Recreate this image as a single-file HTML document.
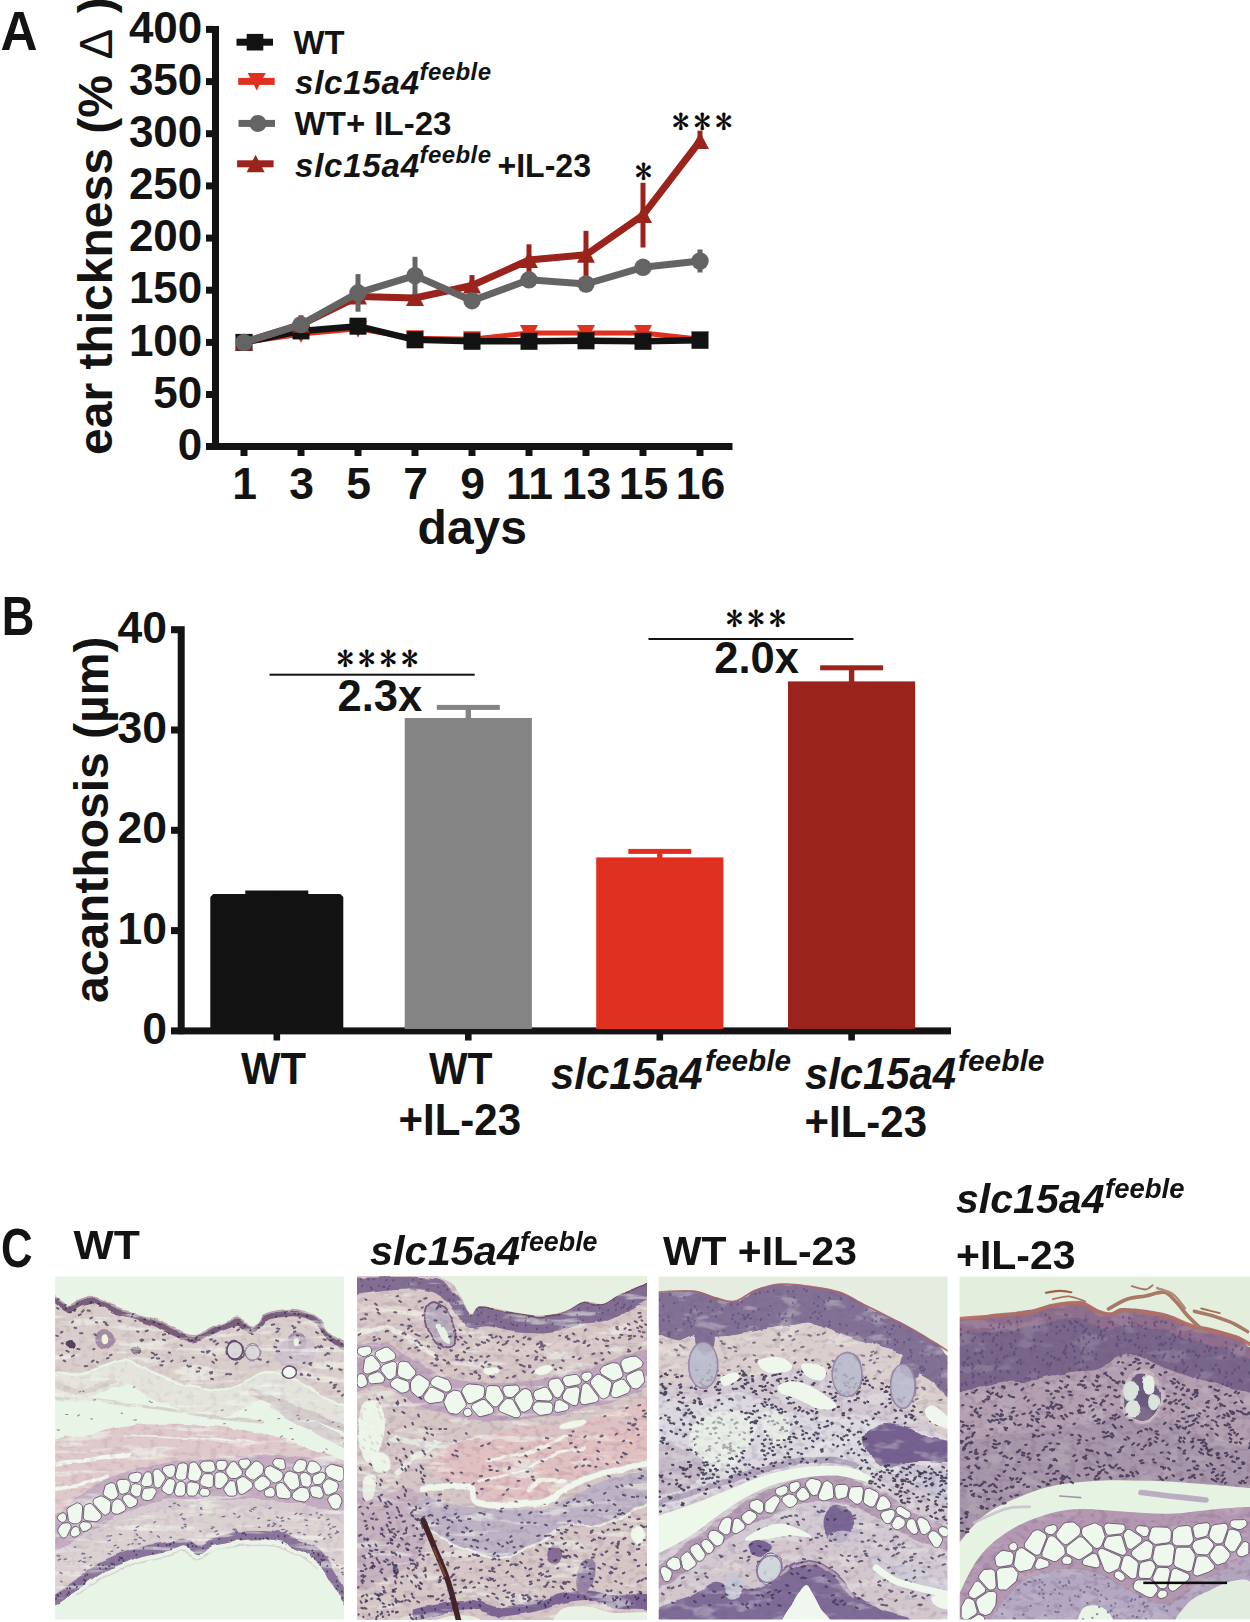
<!DOCTYPE html>
<html lang="en">
<head>
<meta charset="utf-8">
<title>Figure: ear thickness, acanthosis and histology</title>
<style>
html,body{margin:0;padding:0;background:#fff;}
body{width:1250px;height:1622px;overflow:hidden;font-family:"Liberation Sans",sans-serif;}
svg{display:block;}
text{font-family:"Liberation Sans",sans-serif;fill:#121312;}
.b{font-weight:bold;}
.bi{font-weight:bold;font-style:italic;}
.st{font-family:"IPAGothic","Liberation Serif",serif;font-weight:normal;fill:#000;stroke:#000;stroke-width:0.4px;}
</style>
</head>
<body>
<svg width="1250" height="1622" viewBox="0 0 1250 1622">
<rect width="1250" height="1622" fill="#ffffff"/>
<g id="panelC-images">
<defs>
<filter id="soft2" x="-2%" y="-2%" width="104%" height="104%"><feGaussianBlur stdDeviation="1.5"/></filter>
<filter id="desat" x="0" y="0" width="100%" height="100%" color-interpolation-filters="sRGB"><feColorMatrix type="saturate" values="0.82"/></filter>
<filter id="tis1" x="0" y="0" width="100%" height="100%" color-interpolation-filters="sRGB">
<feTurbulence type="fractalNoise" baseFrequency="0.012" numOctaves="2" seed="3" result="w"/>
<feDisplacementMap in="SourceGraphic" in2="w" scale="26" xChannelSelector="R" yChannelSelector="G" result="g"/>
<feTurbulence type="fractalNoise" baseFrequency="0.004 0.03" numOctaves="3" seed="14" result="t"/>
<feColorMatrix in="t" type="matrix" values="0 0 0 0 0.95  0 0 0 0 0.98  0 0 0 0 0.93  7 0 0 0 -3.9" result="s0"/>
<feComponentTransfer in="s0" result="s1"><feFuncA type="linear" slope="0.55"/></feComponentTransfer>
<feComposite in="s1" in2="g" operator="atop" result="g2"/>
<feTurbulence type="fractalNoise" baseFrequency="0.03 0.045" numOctaves="2" seed="26" result="t2"/>
<feColorMatrix in="t2" type="matrix" values="0 0 0 0 0.42  0 0 0 0 0.3  0 0 0 0 0.48  0 6 0 0 -3.1" result="d0"/>
<feComponentTransfer in="d0" result="d1"><feFuncA type="linear" slope="0.1"/></feComponentTransfer>
<feComposite in="d1" in2="g2" operator="atop" result="g3"/>
<feGaussianBlur in="g3" stdDeviation="2.6"/>
</filter>
<filter id="tis2" x="0" y="0" width="100%" height="100%" color-interpolation-filters="sRGB">
<feTurbulence type="fractalNoise" baseFrequency="0.012" numOctaves="2" seed="8" result="w"/>
<feDisplacementMap in="SourceGraphic" in2="w" scale="26" xChannelSelector="R" yChannelSelector="G" result="g"/>
<feTurbulence type="fractalNoise" baseFrequency="0.005 0.028" numOctaves="3" seed="19" result="t"/>
<feColorMatrix in="t" type="matrix" values="0 0 0 0 0.95  0 0 0 0 0.98  0 0 0 0 0.93  7 0 0 0 -3.9" result="s0"/>
<feComponentTransfer in="s0" result="s1"><feFuncA type="linear" slope="0.5"/></feComponentTransfer>
<feComposite in="s1" in2="g" operator="atop" result="g2"/>
<feTurbulence type="fractalNoise" baseFrequency="0.03 0.045" numOctaves="2" seed="31" result="t2"/>
<feColorMatrix in="t2" type="matrix" values="0 0 0 0 0.42  0 0 0 0 0.3  0 0 0 0 0.48  0 6 0 0 -3.1" result="d0"/>
<feComponentTransfer in="d0" result="d1"><feFuncA type="linear" slope="0.14"/></feComponentTransfer>
<feComposite in="d1" in2="g2" operator="atop" result="g3"/>
<feGaussianBlur in="g3" stdDeviation="2.6"/>
</filter>
<filter id="tis3" x="0" y="0" width="100%" height="100%" color-interpolation-filters="sRGB">
<feTurbulence type="fractalNoise" baseFrequency="0.012" numOctaves="2" seed="5" result="w"/>
<feDisplacementMap in="SourceGraphic" in2="w" scale="26" xChannelSelector="R" yChannelSelector="G" result="g"/>
<feTurbulence type="fractalNoise" baseFrequency="0.008 0.02" numOctaves="3" seed="16" result="t"/>
<feColorMatrix in="t" type="matrix" values="0 0 0 0 0.95  0 0 0 0 0.98  0 0 0 0 0.93  7 0 0 0 -3.9" result="s0"/>
<feComponentTransfer in="s0" result="s1"><feFuncA type="linear" slope="0.28"/></feComponentTransfer>
<feComposite in="s1" in2="g" operator="atop" result="g2"/>
<feTurbulence type="fractalNoise" baseFrequency="0.03 0.045" numOctaves="2" seed="28" result="t2"/>
<feColorMatrix in="t2" type="matrix" values="0 0 0 0 0.42  0 0 0 0 0.3  0 0 0 0 0.48  0 6 0 0 -3.1" result="d0"/>
<feComponentTransfer in="d0" result="d1"><feFuncA type="linear" slope="0.16"/></feComponentTransfer>
<feComposite in="d1" in2="g2" operator="atop" result="g3"/>
<feGaussianBlur in="g3" stdDeviation="2.6"/>
</filter>
<filter id="tis4" x="0" y="0" width="100%" height="100%" color-interpolation-filters="sRGB">
<feTurbulence type="fractalNoise" baseFrequency="0.012" numOctaves="2" seed="9" result="w"/>
<feDisplacementMap in="SourceGraphic" in2="w" scale="26" xChannelSelector="R" yChannelSelector="G" result="g"/>
<feTurbulence type="fractalNoise" baseFrequency="0.008 0.016" numOctaves="3" seed="20" result="t"/>
<feColorMatrix in="t" type="matrix" values="0 0 0 0 0.95  0 0 0 0 0.98  0 0 0 0 0.93  7 0 0 0 -3.9" result="s0"/>
<feComponentTransfer in="s0" result="s1"><feFuncA type="linear" slope="0.12"/></feComponentTransfer>
<feComposite in="s1" in2="g" operator="atop" result="g2"/>
<feTurbulence type="fractalNoise" baseFrequency="0.03 0.045" numOctaves="2" seed="32" result="t2"/>
<feColorMatrix in="t2" type="matrix" values="0 0 0 0 0.42  0 0 0 0 0.3  0 0 0 0 0.48  0 6 0 0 -3.1" result="d0"/>
<feComponentTransfer in="d0" result="d1"><feFuncA type="linear" slope="0.2"/></feComponentTransfer>
<feComposite in="d1" in2="g2" operator="atop" result="g3"/>
<feGaussianBlur in="g3" stdDeviation="2.6"/>
</filter>
<clipPath id="clip1"><rect x="55.1" y="1276.6" width="288.8" height="342.8"/></clipPath>
<clipPath id="clip2"><rect x="357.7" y="1276.6" width="288.8" height="342.8"/></clipPath>
<clipPath id="clip3"><rect x="658.7" y="1276.6" width="288.8" height="342.8"/></clipPath>
<clipPath id="clip4"><rect x="959.7" y="1276.6" width="290.3" height="342.8"/></clipPath>
</defs>
<g clip-path="url(#clip1)" filter="url(#desat)"><g transform="translate(55,1276) scale(0.23202)"><rect x="-10" y="-10" width="1280" height="1500" fill="#e6f6e4"/><g filter="url(#tis1)"><path d="M-10 80C2 88 40 125 60 130C80 135 92 114 110 108C128 102 147 90 170 95C193 100 223 124 250 135C277 146 300 151 330 160C360 169 398 178 430 190C462 202 492 223 520 235C548 247 570 263 600 260C630 257 668 228 700 215C732 202 765 183 790 185C815 187 832 228 850 225C868 222 878 182 900 170C922 158 953 153 980 150C1007 147 1035 144 1060 150C1085 156 1110 168 1130 185C1150 202 1158 232 1180 250C1202 268 1247 288 1260 295L1260 560C1247 555 1207 543 1180 530C1153 517 1130 497 1100 480C1070 463 1033 442 1000 430C967 418 933 405 900 410C867 415 833 447 800 460C767 473 733 488 700 490C667 492 633 478 600 470C567 462 533 452 500 440C467 428 433 415 400 400C367 385 333 352 300 350C267 348 233 373 200 385C167 397 135 416 100 420C65 424 8 412 -10 410Z" fill="#dccdca"/><path d="M-10 420C8 422 65 434 100 430C135 426 167 407 200 395C233 383 267 358 300 360C333 362 367 395 400 410C433 425 467 438 500 450C533 462 567 472 600 480C633 488 667 502 700 500C733 498 767 483 800 470C833 457 867 425 900 420C933 415 967 428 1000 440C1033 452 1070 473 1100 490C1130 507 1153 527 1180 540C1207 553 1247 565 1260 570L1260 680C1247 675 1207 663 1180 650C1153 637 1130 617 1100 600C1070 583 1033 562 1000 550C967 538 933 525 900 530C867 535 833 567 800 580C767 593 733 608 700 610C667 612 633 598 600 590C567 582 533 572 500 560C467 548 433 535 400 520C367 505 333 472 300 470C267 468 233 493 200 505C167 517 135 536 100 540C65 544 8 532 -10 530Z" fill="#e3ddd8" fill-opacity="0.75"/><path d="M0 520C33 523 125 532 200 540C275 548 367 558 450 570C533 582 625 600 700 610C775 620 867 627 900 630" fill="none" stroke="#d5c8c4" stroke-width="14" stroke-linecap="round" stroke-opacity="0.8"/><path d="M850 500C875 510 950 540 1000 560C1050 580 1108 603 1150 620C1192 637 1233 653 1250 660" fill="none" stroke="#d2c4c6" stroke-width="34" stroke-linecap="round" stroke-opacity="0.85"/><path d="M0 470C20 475 78 503 120 500C162 497 228 458 250 450" fill="none" stroke="#d8ccc6" stroke-width="24" stroke-linecap="round" stroke-opacity="0.8"/><path d="M950 560C975 573 1050 613 1100 640C1150 667 1225 707 1250 720" fill="none" stroke="#d6cacc" stroke-width="44" stroke-linecap="round" stroke-opacity="0.8"/><path d="M-10 705C17 701 98 690 150 680C202 670 225 652 300 645C375 638 500 634 600 640C700 646 817 662 900 680C983 698 1040 725 1100 745C1160 765 1233 791 1260 800L1260 833C1233 828 1160 811 1100 805C1040 798 967 795 900 795C833 795 758 801 700 805C642 809 600 811 550 818C500 825 450 835 400 848C350 860 300 870 250 893C200 915 143 954 100 983C57 1011 8 1049 -10 1063Z" fill="#e3c8ca"/><path d="M0 808C25 805 97 799 150 793C203 786 292 772 320 768" fill="none" stroke="#eef8ec" stroke-width="18" stroke-linecap="round"/><path d="M0 918C17 915 63 911 100 903C137 894 200 874 220 868" fill="none" stroke="#eef8ec" stroke-width="16" stroke-linecap="round"/><path d="M300 690C350 692 508 696 600 700C692 704 808 712 850 715" fill="none" stroke="#eef6ea" stroke-width="8" stroke-linecap="round" stroke-opacity="0.8"/><path d="M-10 1033C8 1019 57 981 100 953C143 924 200 884 250 863C300 841 350 834 400 823C450 811 500 799 550 793C600 786 642 786 700 783C758 779 833 773 900 773C967 773 1040 776 1100 783C1160 789 1233 808 1260 813L1260 1033C1233 1026 1160 1004 1100 993C1040 981 967 968 900 963C833 958 763 963 700 963C637 963 570 959 520 963C470 966 445 968 400 983C355 998 300 1028 250 1053C200 1078 143 1109 100 1133C57 1156 8 1183 -10 1193Z" fill="#c9acc4"/><path d="M-10 1193C8 1183 57 1156 100 1133C143 1109 200 1078 250 1053C300 1028 355 998 400 983C445 968 470 966 520 963C570 959 637 963 700 963C763 963 833 958 900 963C967 968 1040 981 1100 993C1160 1004 1233 1026 1260 1033L1260 1453C1250 1433 1222 1369 1200 1333C1178 1296 1155 1258 1130 1233C1105 1208 1080 1198 1050 1183C1020 1168 992 1149 950 1143C908 1136 845 1139 800 1143C755 1146 710 1156 680 1165C650 1173 640 1195 620 1195C600 1195 580 1167 560 1165C540 1163 535 1174 500 1183C465 1191 400 1198 350 1215C300 1232 242 1261 200 1285C158 1308 135 1331 100 1355C65 1379 8 1416 -10 1428Z" fill="#d9cad0"/><path d="M-10 1233C8 1223 57 1196 100 1173C143 1149 200 1118 250 1093C300 1068 355 1038 400 1023C445 1008 470 1006 520 1003C570 999 637 1003 700 1003C763 1003 833 998 900 1003C967 1008 1040 1021 1100 1033C1160 1044 1233 1066 1260 1073L1260 1367C1253 1353 1238 1317 1220 1287C1202 1257 1178 1213 1150 1187C1122 1160 1083 1142 1050 1127C1017 1112 992 1102 950 1097C908 1092 845 1092 800 1097C755 1102 710 1118 680 1127C650 1136 640 1152 620 1152C600 1152 580 1129 560 1127C540 1124 535 1130 500 1137C465 1143 400 1152 350 1167C300 1182 242 1205 200 1227C158 1248 135 1273 100 1297C65 1320 8 1355 -10 1367Z" fill="#ddd1d1"/><path d="M-10 1373C8 1361 65 1326 100 1303C135 1279 158 1254 200 1233C242 1211 300 1188 350 1173C400 1158 465 1149 500 1143C535 1136 540 1130 560 1133C580 1135 600 1158 620 1158C640 1158 650 1142 680 1133C710 1124 755 1108 800 1103C845 1098 908 1098 950 1103C992 1108 1017 1118 1050 1133C1083 1148 1122 1166 1150 1193C1178 1219 1202 1263 1220 1293C1238 1323 1253 1359 1260 1373L1260 1453C1250 1433 1222 1369 1200 1333C1178 1296 1155 1258 1130 1233C1105 1208 1080 1198 1050 1183C1020 1168 992 1149 950 1143C908 1136 845 1139 800 1143C755 1146 710 1156 680 1165C650 1173 640 1195 620 1195C600 1195 580 1167 560 1165C540 1163 535 1174 500 1183C465 1191 400 1198 350 1215C300 1232 242 1261 200 1285C158 1308 135 1331 100 1355C65 1379 8 1416 -10 1428Z" fill="#8d72a0"/><path d="M100 1377C117 1365 158 1330 200 1307C242 1283 300 1254 350 1237C400 1220 465 1213 500 1205C535 1196 540 1185 560 1187C580 1189 600 1217 620 1217C640 1217 650 1195 680 1187C710 1178 755 1168 800 1165C845 1161 908 1158 950 1165C992 1171 1020 1190 1050 1205C1080 1220 1117 1246 1130 1255" fill="none" stroke="#d8ccd0" stroke-width="7" stroke-linecap="round" stroke-opacity="0.8"/><path d="M-10 94C2 102 40 139 60 144C80 149 92 128 110 122C128 116 147 104 170 109C193 114 223 138 250 149C277 160 300 165 330 174C360 183 398 192 430 204C462 216 492 237 520 249C548 261 570 277 600 274C630 271 668 242 700 229C732 216 765 197 790 199C815 201 832 242 850 239C868 236 878 196 900 184C922 172 953 167 980 164C1007 161 1035 158 1060 164C1085 170 1110 182 1130 199C1150 216 1158 246 1180 264C1202 282 1247 302 1260 309" fill="none" stroke="#7c5c80" stroke-width="24" stroke-linecap="round"/><path d="M-10 78C2 86 40 123 60 128C80 133 92 112 110 106C128 100 147 88 170 93C193 98 223 122 250 133C277 144 300 149 330 158C360 167 398 176 430 188C462 200 492 221 520 233C548 245 570 261 600 258C630 255 668 226 700 213C732 200 765 181 790 183C815 185 832 226 850 223C868 220 878 180 900 168C922 156 953 151 980 148C1007 145 1035 142 1060 148C1085 154 1110 166 1130 183C1150 200 1158 230 1180 248C1202 266 1247 286 1260 293" fill="none" stroke="#b79aa8" stroke-width="8" stroke-linecap="round" stroke-opacity="0.9"/><ellipse cx="215" cy="275" rx="42" ry="42" fill="#a98aa8"/><ellipse cx="215" cy="275" rx="14" ry="20" fill="#e8f6d8"/><ellipse cx="1040" cy="285" rx="40" ry="44" fill="#a98aa8"/><ellipse cx="1040" cy="285" rx="12" ry="18" fill="#e8f6d8"/><ellipse cx="1040" cy="330" rx="85" ry="70" fill="#cdbfd0" fill-opacity="0.8"/><ellipse cx="775" cy="320" rx="38" ry="42" fill="#d8d4d8" stroke="#6a4a70" stroke-width="7"/><ellipse cx="852" cy="330" rx="36" ry="36" fill="#dcd8dc" stroke="#9a80a0" stroke-width="5"/><ellipse cx="65" cy="298" rx="24" ry="18" fill="#5a3e5e"/><ellipse cx="350" cy="322" rx="22" ry="16" fill="#5a3e5e"/><ellipse cx="1010" cy="415" rx="32" ry="28" fill="#eef8ec" stroke="#6a4a70" stroke-width="5"/></g><g filter="url(#soft2)"><path d="M205 1025L211 1030L219 1031L233 1023L237 1015L241 978L238 971L233 966L206 950L196 948L171 958L165 966L164 975L168 984ZM67 1101L66 1109L68 1117L74 1123L81 1125L89 1124L101 1118L107 1112L109 1105L103 1087L98 1082L90 1079L77 1084ZM908 867L899 862L889 863L859 887L857 895L859 909L875 925L883 927L891 926L920 908L926 903L929 893L927 885ZM990 800L987 792L980 788L954 786L943 793L939 802L939 809L946 820L971 834L980 835L989 831L994 823ZM831 788L801 790L795 795L792 801L792 809L805 829L811 832L820 832L827 828L839 814L842 807L842 800L838 793ZM1048 911L1054 904L1055 896L1049 864L1046 856L1041 851L1014 841L1005 842L996 847L991 854L984 874L984 881L988 889L1012 918L1018 922L1031 922ZM216 905L207 937L211 946L241 965L254 963L267 954L272 946L272 938L260 900L256 894L248 891L240 891L220 900ZM375 902L385 908L404 907L412 905L418 899L420 890L417 857L413 849L408 845L395 844L385 852L371 887L371 895ZM90 979L56 999L51 1008L58 1054L63 1061L77 1068L98 1068L112 1057L115 1050L119 999L118 991L112 984L97 977ZM784 931L776 889L770 883L757 882L749 886L730 911L727 918L729 926L745 947L753 949L769 949L776 947L782 941ZM1085 828L1085 837L1089 844L1100 852L1108 854L1139 843L1145 836L1147 828L1142 817L1125 801L1108 797L1100 798L1094 804ZM709 795L701 797L695 805L694 813L697 828L700 833L706 838L724 839L732 834L742 818L742 805L738 798L732 795ZM1162 934L1168 942L1178 945L1211 931L1217 923L1222 905L1218 892L1213 887L1185 875L1177 874L1169 878L1155 895L1152 903L1153 910ZM613 810L607 804L597 801L586 805L579 812L572 866L575 874L582 881L607 885L615 883L622 877L631 857L633 849L632 843ZM823 839L819 850L823 861L843 877L855 880L862 876L893 853L897 846L900 825L896 816L879 800L866 797L857 802ZM663 913L674 911L682 903L683 863L679 856L671 852L645 852L635 861L625 883L625 894L634 905ZM302 944L292 952L291 964L313 995L320 999L328 999L350 988L356 974L355 965L350 960L321 941L313 940ZM515 928L517 941L526 949L548 949L557 945L561 938L563 932L562 901L559 892L552 887L546 885L536 886L529 890L524 896ZM1067 911L1055 912L1029 931L1023 939L1022 950L1026 959L1039 968L1074 974L1082 971L1095 958L1098 946L1093 925L1090 919L1083 914ZM629 918L622 932L624 940L628 945L635 949L657 949L664 944L668 936L666 924L655 916L636 914ZM477 818L469 822L464 828L463 837L466 844L485 866L498 869L508 866L515 857L520 834L518 821L511 815L505 813ZM454 838L446 832L434 833L426 837L422 846L427 902L433 910L440 914L448 913L455 909L476 874L474 862ZM937 888L944 892L951 892L973 882L978 875L983 863L983 853L976 843L934 820L927 818L916 821L906 830L902 845L903 852L907 859ZM1137 899L1149 895L1166 871L1167 862L1165 855L1160 849L1154 846L1144 846L1118 857L1110 867L1110 884L1114 893L1122 899ZM106 1080L114 1097L121 1101L134 1100L154 1087L157 1079L155 1070L150 1064L144 1061L125 1059L117 1060L110 1066L106 1073ZM414 965L422 959L435 936L437 928L435 922L429 915L421 912L387 915L382 919L378 926L373 947L374 957L379 963L386 966L402 968ZM17 1028L10 1040L11 1046L15 1053L29 1062L38 1061L46 1056L50 1044L49 1032L44 1025L37 1021L30 1021ZM171 1059L181 1058L197 1045L200 1038L199 1028L160 983L150 980L134 985L128 990L125 998L122 1037L123 1045L133 1054ZM789 927L792 935L799 940L807 941L815 938L850 913L853 904L849 890L816 865L806 865L790 874L784 880L782 887ZM35 1066L25 1072L14 1089L12 1098L14 1104L25 1123L32 1128L38 1129L46 1127L52 1121L68 1088L70 1080L67 1071L59 1065L51 1063ZM331 850L323 854L318 863L317 871L322 880L328 887L336 890L355 890L364 886L374 864L373 856L369 850L357 845ZM987 896L980 891L972 890L961 894L954 900L951 909L955 946L960 953L966 957L1004 961L1012 957L1016 952L1017 934ZM1069 843L1079 833L1085 813L1084 803L1080 797L1073 793L1054 791L1047 793L1040 798L1027 821L1025 829L1027 835L1033 843L1047 848ZM760 873L780 873L800 862L806 856L808 847L806 839L781 806L775 801L768 800L760 802L755 807L737 835L736 843L739 852L754 870ZM1170 825L1165 832L1164 842L1173 861L1178 866L1222 885L1232 885L1242 877L1245 869L1244 835L1242 829L1237 823L1192 811L1184 814ZM708 844L696 847L689 856L688 902L691 910L696 914L711 917L723 911L744 885L747 875L744 866L729 849L722 846ZM519 859L521 871L530 879L551 880L562 876L567 867L572 824L571 815L567 810L555 805L539 807L532 812L528 820ZM345 895L336 898L330 903L324 929L331 941L346 951L356 952L364 948L368 943L375 912L371 905L364 898ZM1185 948L1177 956L1175 966L1191 997L1198 1003L1209 1006L1221 1003L1227 997L1237 971L1234 957L1224 943L1215 939L1206 939ZM280 877L270 882L265 892L276 932L282 938L290 941L310 935L315 931L319 924L325 900L323 890L314 880L308 876ZM264 1027L274 1026L298 1014L303 1009L306 1002L303 991L286 967L275 961L266 961L253 969L246 981L243 1008L244 1015L251 1023ZM1098 923L1106 948L1112 952L1141 959L1153 954L1158 942L1149 915L1145 909L1136 905L1116 904L1106 906L1099 915ZM484 941L492 943L499 942L504 939L509 932L519 891L516 882L509 876L494 873L484 876L461 911L460 919L463 927ZM1099 905L1105 894L1104 868L1101 860L1081 847L1074 846L1063 851L1057 856L1055 865L1062 899L1069 906L1085 910L1094 909ZM910 920L904 926L902 934L903 942L908 948L916 952L932 953L940 951L945 947L949 938L948 926L941 914L934 911L927 911ZM640 798L629 804L624 814L626 822L637 842L648 846L674 846L686 841L691 834L691 827L687 809L683 801L672 797ZM587 887L576 889L569 898L568 935L572 943L579 948L599 949L607 945L611 941L623 914L624 905L621 898L614 892Z" fill="#eef9ea" stroke="#5e4468" stroke-width="3.5" stroke-linejoin="round"/></g><g filter="url(#soft2)"><path d="M26 244l6 -4M957 226l10 2M1175 332l6 3M655 326l6 3M695 295l8 -5M501 368l5 -4M73 200l5 -4M141 149l9 1M84 223l7 1M667 416l10 -2M934 211l11 -3M103 169l8 -4M73 347l9 -5M462 369l7 -2M823 338l7 3M237 342l7 -3M128 389l10 -1M116 155l8 -7M1146 301l6 5M682 337l7 6M656 331l5 -4M632 326l9 2M955 324l11 -0M159 369l8 -5M224 355l7 -2M673 443l8 2M354 239l6 1M570 386l6 5M954 242l8 -4M877 358l10 3M1071 375l5 -1M914 372l5 -3M692 359l5 4M439 356l10 0M778 379l8 -6M165 316l5 -2M737 424l6 -2M417 330l9 5M1030 242l6 -3M275 193l7 2M786 235l7 -5M1121 308l5 -0M1059 426l7 -0M417 354l7 -2M1060 421l4 3M49 322l10 5M1202 472l10 -4M735 286l7 -1M421 274l7 2M848 308l9 4M369 277l5 4M490 330l6 1M96 314l10 2M1091 424l9 6M1023 215l4 3M671 421l6 -3M579 390l7 -1M541 298l6 2M684 283l8 -4M1096 378l7 6M176 199l6 1M1237 516l7 -5M1051 289l5 -2M1030 225l6 -3M1189 311l10 2M1134 303l8 5M1158 273l8 3M953 277l9 4M1053 287l5 0M593 351l6 1M372 274l8 2M465 253l10 -2M1125 242l9 5M1133 443l4 3M152 183l8 -4M1219 498l8 -2M5 257l7 2M1164 341l9 -6M211 198l10 5M37 364l7 4M171 251l5 4M1225 402l10 3M181 370l4 3M1188 401l6 -4M29 290l5 1M659 324l8 -1M1048 199l7 1M1042 256l6 1M23 343l8 -2M750 423l9 0M1100 375l6 0M431 341l8 -3M1186 460l5 -2M620 395l7 3M454 385l9 -0M611 413l10 -2M1200 483l8 -4M678 369l7 6M108 247l10 -0M466 274l8 3M219 208l8 4M669 274l7 -0M1089 428l10 -0M769 339l5 -4M555 367l9 -3M1174 386l8 4M9 138l6 3M945 305l9 2M1013 349l6 4M391 238l9 -3" stroke="#4a3560" stroke-opacity="0.75" stroke-width="8.5" stroke-linecap="round" fill="none"/><path d="M874 1045l7 -1M775 1090l7 6M14 1224l10 -4M1235 1261l8 -3M350 1083l10 -4M555 1051l7 -5M126 1234l7 -1M789 1041l8 -6M625 1031l8 -4M627 1003l6 2M1208 1110l9 -5M496 1126l6 1M547 1044l7 3M343 1136l8 -0M769 1023l8 3M846 1005l10 1M21 1277l9 5M721 1037l10 -1M943 1075l8 -6M1215 1247l5 1M331 1155l5 -2M1010 1111l9 -1M1178 1116l8 -4M1047 1106l10 -0M1172 1050l9 -2M1235 1278l7 0M839 1011l8 4M1137 1118l8 -5M1157 1135l8 -5M1098 1028l8 1M923 1003l8 -5M673 1088l6 1M1082 1074l5 2M256 1162l8 -2M701 1114l5 -3M857 999l9 -2M1197 1221l6 4M9 1205l10 2M1172 1210l5 2M102 1231l9 -5M40 1222l10 -3M224 1121l6 -1M546 1085l6 1M969 1079l6 -3M124 1216l8 -1M627 999l5 1M918 1054l9 -1M351 1113l5 4M767 1091l6 4M540 1031l8 -6M492 993l8 2M278 1113l9 1M1134 1043l7 -1M877 1082l6 1M624 1099l5 2M993 1101l8 -3M288 1182l5 2M917 1075l8 -5M118 1231l9 1M342 1097l8 -2M1072 1113l6 2M1126 1022l5 -2M511 981l8 -2M1198 1082l11 -2M1055 1027l10 -3M380 1139l8 3M242 1187l6 -1M974 1045l8 -5M689 1102l10 -4M557 1070l8 2M1120 1143l10 4M229 1142l10 -4M955 1038l8 4M411 1102l6 3M234 1121l10 -2M1034 1027l9 -5M115 1197l6 0M977 1093l11 -1M83 1168l6 0M1185 1125l5 3M1214 1099l8 6M528 985l9 5M1004 1045l7 3M152 1249l6 -3M940 1065l7 1M1249 1277l6 1M442 1120l8 6M698 1115l4 -2M25 1315l5 3M359 1155l8 -1M119 1195l9 2M935 1079l5 -0M1077 1051l10 2M1239 1286l11 2M229 1196l10 3M363 1127l10 3M1145 1029l6 2M988 1106l9 1M150 1212l7 -0M777 1102l10 2M677 1081l8 2M1177 1074l8 -6M315 1159l6 -3M126 1267l6 -0M269 1172l6 -3M557 1079l8 2M976 1056l10 -1M1185 1091l5 -3M917 1078l7 -1M427 1063l6 -4" stroke="#5a4a80" stroke-opacity="0.7" stroke-width="6" stroke-linecap="round" fill="none"/><path d="M125 1309l1 2M243 1239l1 2M1144 1234l-1 2M913 1128l1 2M341 1185l-0 2M809 1109l-1 2M350 1201l1 2M1248 1365l-1 2M1236 1359l1 2M1119 1216l1 2M11 1374l-1 2M219 1259l1 2M130 1313l1 2M1155 1206l0 2M494 1158l-1 2M897 1131l1 1M1239 1387l-0 2M1174 1249l-1 2M127 1326l-1 2M1134 1197l-0 1M445 1160l-1 1M1152 1224l1 3M53 1346l-1 1M14 1379l-0 2M86 1330l-0 3M1219 1335l1 2M919 1134l0 1M511 1147l1 3M296 1224l-1 3M962 1120l1 2M801 1133l1 3M61 1367l-1 2M1214 1315l-0 2M980 1149l1 2M1212 1347l-0 3M81 1326l1 3M501 1176l-1 2M1080 1155l-1 2M193 1259l1 2M1137 1202l-1 3M638 1171l0 3M207 1247l-0 1M1174 1273l-0 2M991 1120l-1 2M280 1212l-1 2M1109 1182l0 2M189 1245l1 1M1115 1192l-1 2M95 1339l-1 3M234 1250l-1 2M707 1133l-0 2M139 1286l1 2M59 1362l-0 3M382 1173l-1 2M422 1195l-1 2M498 1155l-1 2M573 1158l-1 2M1103 1202l-1 2M481 1159l1 2M1136 1233l1 3M760 1140l0 1M256 1243l-0 1M865 1129l0 2M675 1152l-1 2M883 1132l-0 1M5 1389l-1 3M1107 1210l0 1M289 1214l1 3M249 1240l-1 2M1148 1221l0 2M285 1217l0 2M24 1367l-0 2M594 1163l0 2M609 1165l-0 2M131 1291l-1 2M815 1107l-1 2M822 1114l-0 2M1144 1243l-1 2M1161 1222l-1 2M574 1166l-0 2M66 1347l-0 1M63 1344l1 3M589 1151l1 2M275 1223l1 3M52 1373l0 2" stroke="#3e2a5e" stroke-opacity="0.8" stroke-width="7" stroke-linecap="round" fill="none"/><path d="M952 176l2 -2M345 193l2 -0M1048 166l3 -3M1084 173l5 1M1187 278l3 -1M385 187l4 1M788 205l4 2M849 251l4 -0M841 235l3 -2M451 209l2 1M815 215l5 -1M12 100l5 -1M65 157l3 -0M85 146l4 -2M424 201l3 -3M1053 179l4 1M449 208l3 -1M187 120l3 -1M151 117l2 -1M1182 260l4 0M878 223l3 -0M1220 277l4 2M193 129l3 -1M995 176l3 -1M95 121l2 -1M334 165l4 -2M81 149l5 2M46 142l4 -3M769 221l4 -2M605 269l4 1M678 244l3 -1M991 159l2 0M610 262l2 -0M43 125l4 -1M706 223l3 2M1031 161l4 2M62 135l3 1M490 248l2 1M1150 240l3 -1M531 263l3 -2M605 271l5 -2M154 114l4 -3M1234 294l3 -1M573 273l4 1M1186 264l4 -1M590 277l2 -1M586 278l4 -1M331 175l2 -1M1192 277l2 -2" stroke="#3e2a4e" stroke-opacity="0.8" stroke-width="7" stroke-linecap="round" fill="none"/><path d="M46 597l10 0M414 545l6 -1M879 622l7 -1M338 481l6 -4M155 616l6 -0M1168 745l5 3M1194 632l7 -3M819 578l6 -0M1219 649l5 -0M119 496l6 1M1243 723l6 -2M964 532l4 2M9 663l10 1M1013 658l9 -1M341 621l10 -1M1154 760l8 -2M1049 617l6 -2M717 580l8 -3M97 603l9 -5M1085 624l8 -3M406 539l5 4M168 535l6 -2M285 591l6 1M972 694l8 -5M961 615l8 -1M1236 699l6 0M1043 601l6 -1M104 500l7 -2M1021 704l7 -1M727 637l7 -1" stroke="#5a4a70" stroke-opacity="0.6" stroke-width="5" stroke-linecap="round" fill="none"/></g><g filter="url(#soft2)"><ellipse cx="1010" cy="415" rx="30" ry="26" fill="#eef8ec" stroke="#6a4a70" stroke-width="5"/><ellipse cx="775" cy="320" rx="34" ry="38" fill="#dcd8dc" stroke="#6a4a70" stroke-width="6" fill-opacity="0.9"/><ellipse cx="852" cy="330" rx="32" ry="32" fill="#dcd8dc" stroke="#9a80a0" stroke-width="4" fill-opacity="0.9"/><ellipse cx="215" cy="275" rx="13" ry="19" fill="#e8f6d8"/><ellipse cx="1040" cy="285" rx="11" ry="17" fill="#e8f6d8"/></g></g></g>
<g clip-path="url(#clip2)" filter="url(#desat)"><g transform="translate(357,1276) scale(0.23202)"><g filter="url(#tis2)"><rect x="-10" y="-10" width="1280" height="1500" fill="#d9c5c5"/><path d="M-10 8C25 7 142 4 200 4C258 4 307 2 340 10C373 18 382 33 400 50C418 67 435 90 450 110C465 130 478 168 490 172C502 176 502 140 520 135C538 130 570 140 600 145C630 150 667 160 700 165C733 170 767 177 800 175C833 173 870 165 900 155C930 145 953 120 980 115C1007 110 1035 130 1060 125C1085 120 1107 97 1130 85C1153 73 1178 65 1200 55C1222 45 1250 30 1260 25L1260 100C1250 105 1222 120 1200 132C1178 144 1155 160 1130 172C1105 184 1080 195 1050 202C1020 209 983 205 950 212C917 219 883 236 850 242C817 248 783 248 750 247C717 246 682 242 650 237C618 232 588 220 560 217C532 214 502 230 480 222C458 214 447 192 430 172C413 152 402 120 380 102C358 84 338 69 300 62C262 55 202 59 150 62C98 65 17 79 -10 82Z" fill="#856c9a"/><path d="M490 172C495 166 502 140 520 135C538 130 570 140 600 145C630 150 667 160 700 165C733 170 767 177 800 175C833 173 870 165 900 155C930 145 953 120 980 115C1007 110 1035 130 1060 125C1085 120 1107 97 1130 85C1153 73 1178 65 1200 55C1222 45 1250 30 1260 25" fill="none" stroke="#6a3a4a" stroke-width="7" stroke-linecap="round" stroke-opacity="0.8"/><path d="M0 150C25 148 103 137 150 140C197 143 258 165 280 170" fill="none" stroke="#e6d6d0" stroke-width="26" stroke-linecap="round" stroke-opacity="0.8"/><path d="M0 250C20 246 82 222 120 225C158 228 195 251 230 270C265 289 313 328 330 340" fill="none" stroke="#ecece2" stroke-width="22" stroke-linecap="round" stroke-opacity="0.9"/><path d="M520 300C550 303 637 320 700 320C763 320 833 312 900 300C967 288 1042 267 1100 250C1158 233 1225 208 1250 200" fill="none" stroke="#e2cfcc" stroke-width="40" stroke-linecap="round" stroke-opacity="0.7"/><ellipse cx="360" cy="212" rx="55" ry="105" fill="#b9acc0" stroke="#7a5a80" stroke-width="8" transform="rotate(-22 360 212)"/><ellipse cx="372" cy="250" rx="16" ry="50" fill="#e6f2e0" transform="rotate(-30 372 250)"/><path d="M-10 300C5 298 53 288 80 288C107 288 122 286 150 300C178 314 217 350 250 370C283 390 317 407 350 420C383 433 408 443 450 450C492 457 550 462 600 462C650 462 700 459 750 452C800 445 858 429 900 420C942 411 967 410 1000 400C1033 390 1067 374 1100 362C1133 350 1173 337 1200 330C1227 323 1250 320 1260 318L1260 470C1250 475 1227 490 1200 502C1173 514 1133 532 1100 542C1067 552 1033 554 1000 562C967 570 942 583 900 592C858 601 800 612 750 617C700 622 650 625 600 624C550 623 500 621 450 612C400 603 342 587 300 572C258 557 233 539 200 522C167 505 135 475 100 472C65 469 8 500 -10 505Z" fill="#c3a5bf"/><ellipse cx="580" cy="408" rx="36" ry="16" fill="#eef8e8"/><ellipse cx="805" cy="405" rx="40" ry="18" fill="#eef8e8" transform="rotate(-15 805 405)"/><ellipse cx="930" cy="640" rx="60" ry="16" fill="#eef8e8" transform="rotate(-12 930 640)"/><path d="M20 560C33 533 73 527 90 540C107 553 120 603 120 640C120 677 103 733 90 760C77 787 53 810 40 800C27 790 13 740 10 700C7 660 7 587 20 560Z" fill="#ecf4e6" fill-opacity="0.9"/><path d="M60 763C68 751 117 761 130 773C143 784 148 821 140 833C132 844 93 854 80 843C67 831 52 774 60 763Z" fill="#ecf4e6" fill-opacity="0.9"/><path d="M30 873C38 856 73 849 80 863C87 876 78 936 70 953C62 969 37 976 30 963C23 949 22 889 30 873Z" fill="#ecf4e6" fill-opacity="0.9"/><path d="M150 700C168 703 215 714 260 720C305 726 377 738 420 735C463 732 503 706 520 700" fill="none" stroke="#e6efe4" stroke-width="30" stroke-linecap="round" stroke-opacity="0.8"/><path d="M170 853C185 839 232 794 260 773C288 751 327 731 340 723" fill="none" stroke="#e8f2e4" stroke-width="24" stroke-linecap="round" stroke-opacity="0.85"/><path d="M-10 933C12 863 75 913 120 913C165 913 230 908 260 933C290 958 300 1016 300 1063C300 1109 285 1174 260 1213C235 1251 195 1273 150 1293C105 1313 17 1393 -10 1333C-37 1273 -32 1003 -10 933Z" fill="#c7afc0" fill-opacity="0.9"/><path d="M500 700C562 680 633 665 700 655C767 645 833 651 900 640C967 629 1040 607 1100 590C1160 573 1233 505 1260 540C1287 575 1297 754 1260 803C1223 851 1100 816 1040 833C980 849 935 884 900 903C865 922 893 936 830 948C767 960 580 981 520 975C460 969 503 935 470 913C437 891 343 866 320 843C297 819 300 796 330 773C360 749 438 720 500 700Z" fill="#e6bebe"/><path d="M560 793C593 786 703 769 760 753C817 736 877 703 900 693" fill="none" stroke="#eef6e8" stroke-width="14" stroke-linecap="round" stroke-opacity="0.9"/><path d="M520 883C550 876 643 863 700 843C757 823 813 779 860 763C907 746 960 746 980 743" fill="none" stroke="#f0f6ea" stroke-width="12" stroke-linecap="round" stroke-opacity="0.9"/><path d="M740 923C750 916 773 889 800 883C827 876 883 883 900 883" fill="none" stroke="#f0f6ea" stroke-width="16" stroke-linecap="round" stroke-opacity="0.9"/><path d="M760 690C800 685 918 673 1000 660C1082 647 1208 618 1250 610" fill="none" stroke="#d9c3c8" stroke-width="22" stroke-linecap="round" stroke-opacity="0.7"/><path d="M280 918C313 916 438 894 480 905C522 916 477 971 530 983C583 994 738 986 800 975C862 963 858 935 900 915C942 895 990 873 1050 855C1110 836 1225 813 1260 805" fill="none" stroke="#eef8ea" stroke-width="26" stroke-linecap="round"/><path d="M270 938C308 948 412 987 500 998C588 1009 725 1015 800 1005C875 994 900 956 950 935C1000 913 1048 891 1100 875C1152 858 1233 841 1260 835L1260 983C1225 998 1110 1059 1050 1075C990 1090 942 1065 900 1075C858 1085 842 1111 800 1135C758 1158 692 1203 650 1215C608 1226 592 1213 550 1203C508 1192 447 1176 400 1153C353 1129 292 1078 270 1063Z" fill="#bfb2c8"/><path d="M270 1063C292 1078 353 1129 400 1153C447 1176 508 1192 550 1203C592 1213 608 1226 650 1215C692 1203 758 1158 800 1135C842 1111 858 1085 900 1075C942 1065 990 1090 1050 1075C1110 1059 1225 998 1260 983" fill="none" stroke="#ecf2e6" stroke-width="10" stroke-linecap="round" stroke-opacity="0.9"/><path d="M240 1438C267 1432 357 1412 400 1405C443 1398 467 1391 500 1395C533 1398 567 1421 600 1425C633 1428 667 1420 700 1415C733 1410 767 1403 800 1395C833 1386 867 1371 900 1365C933 1358 967 1353 1000 1355C1033 1356 1057 1371 1100 1375C1143 1378 1233 1375 1260 1375L1260 1438C1233 1436 1143 1434 1100 1428C1057 1421 1033 1401 1000 1398C967 1394 933 1401 900 1408C867 1414 833 1429 800 1438C767 1446 733 1453 700 1458C667 1463 633 1471 600 1468C567 1464 533 1441 500 1438C467 1434 443 1439 400 1448C357 1457 267 1485 240 1493Z" fill="#80649c"/><ellipse cx="850" cy="1203" rx="34" ry="40" fill="#8a6a98"/><ellipse cx="985" cy="1293" rx="40" ry="80" fill="#9a82ac" transform="rotate(15 985 1293)"/><ellipse cx="1210" cy="1113" rx="30" ry="34" fill="#eef8ea"/></g><g filter="url(#soft2)"><path d="M395 -30C253 -18 410 18 420 40C430 62 443 79 455 100C467 121 480 160 492 165C504 170 507 134 525 130C543 126 571 135 600 140C629 145 667 155 700 160C733 165 767 172 800 170C833 168 870 160 900 150C930 140 953 115 980 110C1007 105 1035 125 1060 120C1085 115 1107 92 1130 80C1153 68 1177 61 1200 50C1223 39 1258 28 1270 15C1282 2 1416 -22 1270 -30C1124 -38 537 -42 395 -30Z" fill="#e4f2de"/><path d="M880 1438C900 1421 963 1423 1000 1425C1037 1427 1055 1446 1100 1451C1145 1456 1242 1443 1270 1455C1298 1467 1335 1511 1270 1523C1205 1534 945 1537 880 1523C815 1509 860 1454 880 1438Z" fill="#e8f4e2"/><path d="M300 1498C320 1488 383 1467 420 1463C457 1459 497 1465 520 1475C543 1485 597 1515 560 1523C523 1531 343 1527 300 1523C257 1519 280 1508 300 1498Z" fill="#e8f4e2" fill-opacity="0.9"/><path d="M285 1053C293 1073 317 1128 335 1173C353 1218 378 1269 395 1323C412 1376 432 1464 440 1493" fill="none" stroke="#4a2420" stroke-width="24" stroke-linecap="round"/><path d="M330 1173C338 1193 372 1273 380 1293" fill="none" stroke="#8a4030" stroke-width="9" stroke-linecap="round"/><path d="M1113 456L1104 465L1094 505L1095 515L1101 521L1112 525L1120 524L1166 506L1175 496L1178 488L1177 480L1153 447L1140 444ZM724 485L712 490L682 519L679 529L680 537L704 579L709 584L718 587L726 585L747 573L761 540L750 499L737 488ZM1209 350L1201 346L1179 347L1153 355L1145 360L1138 370L1137 380L1147 409L1152 415L1160 419L1169 418L1222 394L1229 389L1233 379L1231 369ZM150 451L143 462L147 476L187 503L197 505L214 500L224 492L226 484L225 465L223 459L217 453L174 438L165 441ZM0 464L4 475L14 481L24 480L41 471L44 465L45 456L37 433L33 427L24 422L18 421L11 422L4 427L1 436ZM886 514L885 526L891 535L930 558L943 559L950 554L953 547L961 496L960 488L955 481L946 477L907 483L898 490ZM88 322L79 330L78 343L100 369L106 374L116 374L155 362L162 358L166 352L167 344L163 332L134 307L122 307ZM49 454L55 462L63 465L106 461L117 454L119 441L117 435L103 418L96 414L89 413L57 424L50 429L46 439ZM390 582L400 591L425 596L431 596L438 592L469 563L471 557L470 548L447 502L440 495L416 492L393 506L388 511L375 540L374 546ZM898 431L889 437L885 448L895 469L902 475L911 477L954 469L961 465L965 460L967 454L965 446L953 429L947 425L937 424ZM235 450L230 461L232 491L234 498L261 522L270 523L278 520L311 473L312 459L309 451L275 428L265 425L254 429ZM854 542L849 576L854 583L859 587L867 588L904 580L911 573L914 564L912 557L907 551L880 535L872 533L860 537ZM472 541L480 549L491 550L541 526L547 516L551 492L548 479L541 474L527 469L483 465L472 469L455 485L451 496L453 503ZM770 493L763 499L760 511L765 528L773 536L827 539L837 536L842 529L844 523L842 515L824 486L818 480L806 479ZM15 307L3 314L1 327L6 337L24 347L37 347L56 337L62 330L63 317L59 309L53 303L45 302ZM1010 447L1005 456L1007 466L1050 525L1057 529L1065 530L1081 522L1086 515L1098 469L1097 461L1094 455L1049 426L1041 423L1030 426ZM1052 397L1047 408L1051 421L1099 451L1111 451L1137 440L1142 436L1146 429L1146 420L1133 385L1123 376L1101 373L1063 388ZM377 523L378 512L372 502L330 481L322 479L314 481L309 486L289 515L287 523L290 533L302 545L314 550L364 543L370 537ZM196 367L185 370L178 379L174 419L176 427L185 436L217 448L229 447L251 425L254 417L252 409L221 372L213 369ZM980 416L969 424L966 430L967 438L979 453L987 455L993 455L1011 439L1013 432L1013 424L1008 417L1001 413ZM490 575L478 569L465 574L458 586L459 592L462 599L469 604L478 606L490 601L495 594L496 588ZM614 561L611 569L611 577L615 583L621 587L681 611L695 610L703 602L705 596L703 588L674 537L667 530L648 528L640 530ZM574 472L565 474L558 482L552 523L557 531L586 561L593 564L601 564L609 559L630 533L633 527L633 518L612 477L602 473ZM778 542L766 547L757 563L756 573L763 583L782 598L790 601L830 595L839 589L842 582L845 562L843 554L838 548L828 544ZM974 467L969 475L960 535L964 548L970 553L979 555L1028 545L1036 542L1042 532L1040 521L1000 467L987 461L980 463ZM323 445L318 453L317 461L320 468L326 474L383 501L393 499L406 489L408 483L407 475L397 453L391 447L347 431L337 434ZM556 537L548 532L538 533L501 551L495 558L493 566L496 574L524 605L534 606L576 595L584 591L588 586L589 577L586 569ZM1169 424L1161 432L1160 444L1183 479L1189 485L1204 487L1216 482L1239 457L1240 447L1233 417L1229 410L1224 406L1211 405ZM26 403L28 413L33 419L41 422L49 422L93 405L101 390L100 380L72 346L65 342L57 343L39 352L33 359ZM172 387L171 378L166 372L158 368L150 369L111 383L103 398L103 408L130 443L138 447L147 446L163 435L168 429ZM643 472L631 477L627 490L637 515L646 522L664 524L672 522L696 499L700 492L699 479L689 470ZM824 464L825 477L851 520L863 526L875 522L893 490L894 482L892 473L875 445L868 441L861 440L838 445L829 451Z" fill="#eef9ea" stroke="#5e4468" stroke-width="3.5" stroke-linejoin="round"/></g><g filter="url(#soft2)"><path d="M427 344l10 -3M1100 266l7 3M543 287l9 1M570 254l10 -0M853 402l5 2M221 185l5 4M1197 195l10 5M581 436l9 -3M930 247l7 5M644 284l8 -5M550 374l7 -5M251 309l9 -2M716 389l7 1M422 265l7 -3M976 289l6 -1M1077 278l6 2M1216 314l7 -6M1173 233l7 0M36 101l5 2M126 238l9 -1M387 377l7 -6M230 215l5 3M265 111l9 -3M793 293l6 -1M263 321l6 -0M768 323l8 6M522 295l7 1M755 417l8 -7M1213 159l9 -0M1060 274l9 6M733 345l6 -1M359 220l5 -1M605 289l6 -4M1129 266l6 -2M1231 242l8 1M1118 226l7 4M355 111l11 1M804 351l9 2M909 273l7 0M841 386l6 -3M196 248l8 -4M627 296l8 -1M264 285l6 5M789 283l7 2M506 415l6 -5M612 318l7 4M123 240l6 -5M688 279l7 5M532 347l6 0M422 406l7 -4M609 390l6 2M1241 208l9 4M339 357l8 -3M160 261l8 1M767 361l7 -4M463 283l9 6M1226 191l4 3M221 314l9 -3M538 284l7 4M1030 269l9 5M290 98l10 -3M298 265l9 -6M234 239l5 -4M352 127l9 6M221 215l8 -1M1219 216l10 5M381 263l6 2M134 193l6 -1M337 340l8 6M560 275l8 5M403 322l7 -1M580 263l6 4M182 107l8 5M1135 253l9 1M373 361l8 4M71 264l5 -1M1167 206l7 3M15 188l10 -2M375 153l10 5M251 251l8 2M645 440l5 -2M1169 317l5 4M525 427l6 4M444 262l7 5M334 191l9 2M716 410l8 5M160 156l10 1M264 257l7 1M701 381l7 2M899 263l8 -5M433 273l5 2M509 415l6 3M283 171l6 -4M875 395l6 2M514 294l7 6M1057 362l6 -4M787 308l8 -6M1027 373l7 3M453 295l6 -0M339 340l8 4M900 264l9 3M187 279l9 -3M361 406l6 2M375 264l6 -1M490 348l8 4M1216 178l9 -4M704 385l8 0M320 376l6 0M537 388l8 5M417 239l7 -4M1014 336l10 -2M686 323l10 -2M716 294l5 2M718 267l8 -4M510 366l8 -4M190 210l8 0M93 269l6 3M89 157l9 6M393 376l6 1M453 359l7 2M956 358l8 -4M936 283l8 0M1167 326l11 -2M442 231l6 3M1172 273l8 -5M346 134l8 -3M395 263l10 -3M884 363l7 4M1171 259l11 -1M485 363l6 4M488 421l9 2M1025 377l7 1M219 227l6 -3M445 363l7 1M565 395l10 -1M591 417l7 -2M775 295l9 -5M250 279l8 -1M454 420l6 2M1153 228l6 -4M342 142l8 -6M72 278l10 -4M797 302l6 4M560 348l10 -4M980 282l4 -3M741 386l6 1M687 364l6 -2M741 393l7 0M36 165l8 1M78 119l8 6M1225 260l5 3M485 257l7 5M223 146l8 -1M333 386l11 -0M402 320l7 1M1117 220l6 0M273 298l7 1M1193 260l6 -1M640 292l5 -3M574 431l8 6M203 246l7 6M770 357l5 3M771 351l7 -3M742 267l7 5M1207 223l5 1M474 313l10 -4M525 443l6 -3M279 137l5 -2M343 362l6 -2M795 317l7 -0M652 264l8 -1M85 142l6 4M32 182l5 3M426 347l6 3M930 350l6 -2M358 292l6 4M1052 332l5 2M981 235l6 -5M871 257l5 -0M949 278l8 4M671 262l4 -3M460 326l6 4M350 308l10 5M614 399l10 -2M7 254l8 -5M1072 302l10 0M202 247l7 2M800 300l11 -0M737 273l9 -0M427 360l8 1M170 88l7 -2M792 363l9 1M673 435l9 -5M1084 328l6 5M616 261l6 5M567 381l9 -0M994 302l8 -5M596 264l6 -4M305 302l6 3M1214 236l6 4" stroke="#4a3560" stroke-opacity="0.75" stroke-width="8.5" stroke-linecap="round" fill="none"/><path d="M634 221l1 2M516 207l-0 2M269 31l-0 2M523 167l-0 3M1152 122l0 2M818 222l1 2M1041 190l-1 2M460 141l-0 2M674 211l1 2M1045 138l0 2M112 47l0 2M470 203l-0 3M956 140l-1 2M1116 146l0 2M416 104l-0 3M63 55l1 2M566 175l-1 3M95 42l0 2M727 211l1 3M591 214l0 3M141 42l-1 2M350 47l0 2M740 176l1 3M117 46l1 1M1191 109l-1 2M1124 116l0 2M242 15l-1 2M774 228l1 3M543 199l1 2M600 186l0 2M426 115l0 2M435 117l-1 3M728 182l1 1M995 138l-0 1M376 42l-0 2M157 18l0 2M599 169l1 2M127 17l-1 2M1183 130l-0 2M417 80l-1 3M1109 103l-1 2M873 168l-1 2M136 52l-1 2M1116 123l-1 2M663 204l0 2M22 41l1 3M661 177l0 2M1175 136l0 2M1032 160l0 2M815 189l0 2M726 193l-0 2M893 219l-1 2M1167 140l0 3M1140 136l0 3M536 156l-0 3M389 56l1 3M131 57l0 2M519 146l-1 2M691 213l-1 1M1059 159l1 3M843 206l-1 2M61 48l0 2M222 34l0 2M949 166l0 2M1150 132l-1 3M974 191l0 2M952 200l0 2M621 197l-1 1M1082 146l1 2M397 102l1 3M306 56l-1 2M777 225l-0 2M1051 186l-0 2M48 14l1 2M277 13l0 1M958 146l-1 2M18 14l0 2M359 70l0 2M74 13l-0 2M671 208l-1 2" stroke="#4a3470" stroke-opacity="0.6" stroke-width="7" stroke-linecap="round" fill="none"/><path d="M343 1067l6 1M129 1021l5 4M1245 954l8 2M407 1138l9 -3M912 1058l8 -4M469 1084l7 5M125 993l9 2M197 1059l10 -2M811 1072l8 3M1011 1012l7 -4M904 979l9 -4M1045 1008l5 2M1073 1014l6 -3M824 1119l11 -1M60 1045l9 2M390 1088l7 -5M1106 983l8 4M1109 1039l6 -3M743 1023l9 -5M909 1058l6 -2M697 1030l5 -3M300 982l8 -3M102 945l7 -3M135 1043l6 -1M949 972l10 1M1125 1027l11 -0M500 1138l11 -0M1010 974l8 4M386 990l5 2M9 997l7 -3M421 1027l7 -3M1133 1027l7 -2M622 1003l9 -4M506 1139l7 0M1143 1020l9 4M791 1017l7 2M1206 950l6 -0M232 1022l7 -6M1226 861l7 3M1129 1011l6 -2M1139 901l6 5M646 1148l5 4M378 996l8 6M661 1125l5 -4M69 1026l4 -3M933 965l8 -5M387 1118l7 -0M346 1049l4 4M389 1051l11 2M284 1040l7 -3M605 1205l5 2M320 1030l5 3M527 1021l10 1M565 1071l5 2M463 1136l9 -1M323 1066l7 -3M439 1053l10 3M58 982l7 -4M678 1195l8 -5M981 1010l8 0M704 1165l10 1M764 1065l6 -1M1214 872l11 -0M607 1152l8 6M32 1055l6 2M921 1074l7 1M308 1034l7 -4M708 1063l6 0M479 1047l10 -0M893 1022l7 -2M349 968l10 0M452 1103l10 3M408 1058l5 4M776 1121l11 -3M386 1114l8 -6M516 1168l5 3M955 1056l8 6M589 1199l7 -6M553 1174l5 2M674 1169l6 0M734 1063l10 -1M81 1049l7 0M118 992l8 3M891 989l11 2M661 1147l8 -3M861 1093l10 2M139 1060l7 4M545 1026l6 2M490 1163l6 3M269 1001l5 1M430 1043l9 -6M996 967l11 -2M858 979l6 -2M708 1087l5 -3M1117 906l7 5M1184 952l10 1M243 1009l10 -1M1146 943l10 3M560 1139l6 -4M617 1013l6 2M1082 967l6 0M1177 898l9 4M370 1042l10 -3M810 1121l8 -0M517 1141l5 3M251 1046l8 6M532 1115l7 -1M625 1166l5 -1M486 1101l9 -3M1065 939l6 -5" stroke="#3e3060" stroke-opacity="0.75" stroke-width="8.5" stroke-linecap="round" fill="none"/><path d="M269 1344l7 4M151 1379l5 2M175 1102l5 -1M78 1180l10 1M1120 1093l11 -1M850 1228l10 -5M335 1176l9 7M970 1298l7 -2M317 1379l11 1M743 1265l9 -4M1096 1153l7 -4M487 1263l5 -2M523 1321l4 3M1041 1127l10 3M1093 1275l8 4M840 1126l6 -2M357 1299l5 -3M100 1369l10 4M818 1274l6 -2M581 1264l4 -3M160 1247l7 -0M945 1154l7 -3M1242 1303l5 1M1016 1199l9 2M118 1303l6 4M1125 1147l5 -3M403 1166l7 -3M1120 1167l6 -5M553 1338l9 2M1012 1214l9 -2M393 1354l7 5M589 1314l7 -2M94 1374l5 3M1167 1191l7 2M820 1324l6 -4M335 1145l5 -2M790 1221l8 2M522 1392l9 4M737 1385l8 0M727 1376l9 -0M1000 1283l5 -0M888 1322l6 -3M342 1395l10 -4M411 1398l7 2M881 1344l8 4M1215 1159l4 -3M466 1340l5 4M1176 1365l10 -3M357 1309l5 1M104 1265l6 -1M784 1285l9 -5M1196 1088l6 -2M863 1261l4 -2M482 1208l6 -1M1173 1201l4 -3M137 1417l5 1M145 1150l8 4M1221 1369l5 -1M16 1271l10 1M610 1247l5 -1M120 1308l8 4M19 1293l8 -4M1209 1319l8 -6M21 1381l8 -5M133 1245l10 -2M645 1228l8 0M879 1128l7 4M259 1402l9 5M443 1364l6 -3M216 1181l6 -0M282 1115l8 -3M534 1303l6 -3M815 1152l8 1M843 1340l5 1M32 1431l9 3M1040 1257l8 4M410 1374l7 5M1234 1137l7 2M460 1344l9 -5M745 1329l9 -3M210 1157l8 -5M174 1402l10 2M891 1212l11 3M239 1269l8 -5M501 1343l8 -2M665 1401l10 -1M814 1334l6 -4M716 1389l9 4M1053 1200l6 3M368 1192l5 -4M1133 1362l5 4M635 1333l5 -2M387 1243l7 4M877 1337l6 4M600 1386l8 5M1113 1315l5 2M217 1153l9 5M1225 1313l9 -6M1120 1222l9 4M1026 1181l6 -4M256 1248l6 1M456 1314l9 -4M390 1234l4 3M703 1232l8 6M939 1105l9 2M414 1285l6 1M643 1280l8 -6M332 1245l10 -2M1056 1101l7 5M911 1253l5 0M232 1240l8 0M1209 1251l8 -3M893 1327l7 -1M1004 1262l11 0M806 1338l7 2M66 1250l10 1M486 1322l9 -6M1072 1190l7 -4M145 1140l7 -2M1109 1263l10 -2M105 1190l11 -1M418 1368l8 -2M787 1158l5 2M453 1312l8 2M36 1265l5 -4M607 1336l5 -2M1080 1095l4 -3M158 1269l9 5M1178 1083l9 -4M712 1375l7 3M593 1218l5 3M1007 1107l6 -3M1007 1305l6 1M1217 1361l7 2M78 1369l8 5M303 1201l7 -1M346 1223l9 6M666 1292l7 5M899 1093l9 3M1093 1358l5 -3M584 1222l9 -5M404 1367l6 -3M19 1431l10 2M366 1377l8 -5M711 1195l5 4M930 1349l7 4M811 1294l8 2M1245 1246l8 -5M891 1324l6 -4M160 1294l9 -5M1062 1133l7 -3M794 1291l8 -5M207 1400l4 -3M416 1312l10 -3M1060 1240l9 4M878 1108l8 3M745 1318l7 -1M142 1104l9 0M192 1296l7 -1M24 1208l8 -3M530 1268l8 -2M1104 1064l8 3M585 1272l9 3M354 1311l5 -4M1224 1075l9 4M667 1376l10 -5M158 1353l10 -5M419 1331l6 -0M932 1291l8 -1M905 1318l11 1M742 1391l7 1M583 1368l10 3M410 1195l5 -3M1029 1318l8 2M561 1379l6 2M1195 1223l8 2M519 1207l7 -1M57 1210l9 -2M1123 1154l6 -0M631 1358l9 -3M1187 1153l6 3M845 1317l11 1M979 1257l5 -2M1117 1165l8 7M191 1404l6 -2M881 1184l9 5M1106 1094l5 1M102 1112l7 -1M61 1392l5 -2M510 1203l8 -2M1150 1071l10 0M1233 1082l7 0M901 1208l9 -2M1090 1281l5 1M362 1228l7 -4M1148 1134l9 -5M167 1280l9 -1M1095 1253l7 5M561 1307l7 5M362 1400l8 -1M246 1290l9 5M779 1311l7 0M37 1078l6 -4M677 1243l6 -1M352 1320l7 -3M1009 1100l8 -4M36 1405l7 -5M272 1135l9 -1M899 1180l7 3M648 1365l10 -1M442 1211l6 0M245 1121l6 -0M937 1202l8 3M435 1258l5 -3M28 1298l8 -5M372 1304l10 0M113 1426l10 -1M220 1397l9 5M201 1111l11 -3M1206 1178l11 -1M793 1243l11 -1M130 1154l6 -4M569 1271l8 2M2 1343l5 -1M253 1297l6 3M610 1222l5 1M838 1151l8 3M63 1315l7 2M803 1381l7 4M24 1292l7 2M643 1384l9 2M966 1169l7 3M149 1093l11 -3M1088 1279l6 -4M420 1263l8 -6M101 1373l7 -1M1016 1262l7 3M736 1401l9 -5M672 1383l6 -2M670 1412l9 4M41 1091l5 -4M886 1208l7 -0M116 1364l7 -0M661 1246l7 -4M895 1103l7 2M583 1258l7 3M576 1309l10 -3M623 1414l10 4M1208 1048l10 -1M219 1259l5 3M786 1253l10 -2M268 1203l8 -3M968 1242l6 1M938 1205l5 -1M984 1231l6 4M111 1410l5 3M572 1302l9 3M251 1255l5 3M684 1247l9 -4M1011 1333l7 6M88 1392l8 -0M57 1259l8 -6M113 1357l6 -1M44 1132l5 3M404 1299l5 -4M1020 1134l6 2M1248 1080l9 0M344 1268l7 1M1136 1325l6 1M287 1273l8 -3M1172 1040l5 0M941 1205l8 5M724 1257l4 3M126 1221l7 4M891 1155l9 -5M306 1379l9 3M1046 1299l6 4M733 1293l10 -4M55 1183l11 2M240 1075l5 -0M771 1180l9 6M1076 1355l7 4M156 1123l7 3M768 1380l9 2M399 1390l8 5M153 1361l11 -0M236 1224l5 3M1011 1142l9 -6M1118 1192l7 -0M255 1172l6 -2M273 1324l8 3M532 1233l8 -3M825 1295l10 -2M1146 1282l7 -4M410 1291l6 -3M913 1206l7 6M9 1120l9 -5M271 1174l7 -2M828 1177l5 1M499 1199l5 3" stroke="#3a2c5c" stroke-opacity="0.75" stroke-width="8.5" stroke-linecap="round" fill="none"/><path d="M1185 1411l0 2M7 1458l0 1M1114 1395l0 2M337 1436l-0 1M138 1460l-1 2M1007 1394l-1 3M1212 1385l1 3M492 1431l-0 2M980 1381l1 3M90 1463l-0 2M1164 1402l-0 2M699 1438l1 2M790 1406l-1 2M53 1458l-0 2M255 1474l-0 3M228 1459l-0 2M414 1431l0 2M83 1477l0 3M102 1457l0 2M1161 1410l-1 2M1123 1385l-1 3M731 1426l1 3M175 1447l1 2M430 1422l1 3M154 1445l1 2M1117 1385l-0 3M1206 1392l1 2M488 1406l0 2M985 1392l0 1M84 1470l-0 3M953 1381l0 2M910 1385l-1 3M1068 1407l-0 3M27 1468l1 3M813 1423l0 3M825 1407l0 1M168 1448l0 3M902 1369l-1 2M292 1450l-0 3M1107 1398l-1 2M529 1417l-1 1M1168 1425l0 2M1135 1392l1 3M152 1445l-0 2M782 1409l-1 3M112 1468l0 2M436 1412l-1 2M1240 1397l-1 2M1071 1374l-1 3M833 1395l1 2M895 1378l-1 2M88 1447l1 1M1063 1380l0 2M531 1422l0 1M809 1415l-0 3M1199 1382l1 2M458 1431l-1 2M1119 1424l-1 2M1103 1389l0 2M391 1415l0 2" stroke="#3a2a60" stroke-opacity="0.8" stroke-width="8.5" stroke-linecap="round" fill="none"/><path d="M171 996l4 6M13 827l5 9M240 1383l7 5M13 830l4 5M96 548l1 6M84 1216l5 9M21 1160l8 5M274 843l2 6M175 952l6 5M182 1030l9 6M94 1390l6 9M159 1247l7 7M76 752l2 5M121 976l6 8M131 1446l4 3M263 1333l5 3M101 605l6 9M209 774l6 8M31 571l5 5M136 1092l6 8M284 1205l4 4M15 1402l5 7M60 743l5 6M170 1246l1 7M19 1315l5 9M50 1160l8 5M255 834l2 5M51 1195l7 5M153 1235l2 8M282 752l6 5M68 1083l3 8M198 906l4 6M128 1071l4 9M282 886l7 5M214 1084l1 5M265 1047l5 8M143 980l6 5M195 585l9 6M79 1156l5 8M282 1464l3 10M165 1401l5 7M107 521l3 5M184 1205l2 6M212 1174l8 5M232 1314l6 7M274 1115l8 6M254 994l2 8M64 1255l4 6M192 830l5 6M216 1291l2 4M134 673l6 7M93 951l4 5M290 764l4 5M18 593l2 9M69 871l7 6M178 1010l4 9M168 1040l4 3M179 1156l5 6M174 702l6 6M205 940l3 9M279 826l7 6M89 1373l4 8M274 1065l5 4M174 1165l3 4M144 1132l8 5M54 690l5 7M133 722l5 6M70 1248l6 5M246 1239l7 7M158 577l4 5M94 1232l4 6M84 561l9 6M259 1236l3 5M88 550l6 5M189 1320l4 5M64 717l5 8M289 699l5 7M268 1184l4 4M152 1413l5 5M274 817l4 6M184 792l5 8M164 1277l7 8M270 523l8 6M98 960l5 10M192 811l3 5M238 633l4 7M160 1270l2 9M169 783l2 5M100 896l1 6M260 1047l6 5M22 1023l5 5M235 1475l8 7M264 597l3 8M52 532l3 4M27 960l5 6M282 1219l6 4M206 648l3 4M175 540l3 10M40 1373l5 5M133 971l6 4M208 829l3 10M169 547l6 7M169 1295l2 6M78 889l4 5M235 1030l7 6M298 938l3 6M154 1353l3 5M44 997l4 4M268 1346l5 4M106 1091l5 3M100 1273l8 7M274 1114l3 6M116 798l4 5M272 1320l4 5M189 1129l8 7M288 859l6 4M31 1130l2 7M221 819l2 4M199 744l6 4M159 1192l8 7M278 1434l5 6M63 1235l7 4M18 607l5 8M171 888l3 8M86 527l5 6M117 1229l7 4M295 652l7 8M93 586l7 8M84 717l7 6M203 1377l3 6M107 1448l1 7M280 1076l4 10M112 1339l4 6M40 1134l5 5M234 756l6 9M278 872l7 6M38 1396l4 5M160 1110l8 8M210 1091l2 8M166 1197l4 6M277 1465l3 8M294 1258l2 11M166 1391l4 10M232 1471l6 8M25 737l6 6M105 1086l2 8M295 1288l2 10M32 1213l4 4M29 704l8 5M296 1058l5 8M105 685l2 7M149 1189l3 5M29 1244l6 6M297 915l7 5M205 533l4 7M164 1315l3 10M158 1259l9 5M174 1264l2 10M253 1335l2 5M111 1117l7 6M256 1086l4 5M209 920l3 9M228 1219l2 6M55 809l9 6M236 1369l2 5M222 982l5 4M102 877l6 7M191 1030l4 3M113 841l5 3M23 1309l7 7" stroke="#3a2c5c" stroke-opacity="0.75" stroke-width="8.5" stroke-linecap="round" fill="none"/><path d="M1114 684l7 -5M469 677l5 4M1212 558l9 -2M979 695l7 -5M555 882l9 -1M459 893l5 1M951 757l5 1M1215 832l9 3M692 883l9 0M753 865l8 -0M1035 787l6 4M1027 822l5 0M971 820l7 -4M918 722l8 -2M530 863l9 -1M601 840l6 -0M403 894l6 -2M353 943l10 -2M1196 614l8 6M929 671l5 -2M1178 718l5 4M419 708l8 5M1203 657l8 4M1160 570l7 -3M757 877l8 4M857 834l9 5M1190 640l11 -2M321 682l7 4M535 918l7 -1M496 900l8 -7M1146 713l6 -3M654 825l4 -2M513 933l6 4M730 844l8 0M1233 604l11 3M1168 635l10 1M800 979l10 4M1186 643l9 2M940 826l9 -6M386 877l8 5M1081 859l9 6M407 847l8 5M1210 686l5 -2M1066 605l5 -2M563 879l6 -1M1120 802l7 5M646 923l7 -5M572 836l10 0M535 733l8 -3M423 752l10 3M1074 809l7 3M1049 692l8 -1M779 748l5 1M794 796l8 3M1241 594l6 -2M1034 753l9 4M939 737l6 1M1138 779l5 1M317 773l5 4M410 769l8 5M447 847l5 1M682 972l9 4M996 902l7 4M996 817l10 2M915 687l10 2M814 698l11 2M300 675l5 4M1154 768l9 -0M708 743l6 0M565 724l7 -4M1168 662l8 2M354 659l8 0M825 741l9 0M645 983l10 3M471 910l9 -4M1232 581l8 -1M570 819l5 2M1146 762l10 3M1040 717l7 -0M1062 856l6 -4M566 790l5 0M698 799l6 5M725 773l7 5M427 773l8 6M317 659l5 -0M1054 687l5 1M628 943l5 -2M378 659l7 0M652 833l8 -5M978 792l8 -3" stroke="#3a2c5c" stroke-opacity="0.7" stroke-width="8.5" stroke-linecap="round" fill="none"/></g><g filter="url(#soft2)"><ellipse cx="580" cy="408" rx="36" ry="16" fill="#eef8e8"/><ellipse cx="805" cy="405" rx="40" ry="18" fill="#eef8e8" transform="rotate(-15 805 405)"/><ellipse cx="930" cy="640" rx="60" ry="16" fill="#eef8e8" transform="rotate(-12 930 640)"/><path d="M20 560C33 533 73 527 90 540C107 553 120 603 120 640C120 677 103 733 90 760C77 787 53 810 40 800C27 790 13 740 10 700C7 660 7 587 20 560Z" fill="#ecf4e6" fill-opacity="0.85"/><path d="M60 763C68 751 117 761 130 773C143 784 148 821 140 833C132 844 93 854 80 843C67 831 52 774 60 763Z" fill="#ecf4e6" fill-opacity="0.85"/><path d="M30 873C38 856 73 849 80 863C87 876 78 936 70 953C62 969 37 976 30 963C23 949 22 889 30 873Z" fill="#ecf4e6" fill-opacity="0.85"/><path d="M280 918C313 916 438 894 480 905C522 916 477 971 530 983C583 994 738 986 800 975C862 963 858 935 900 915C942 895 990 873 1050 855C1110 836 1225 813 1260 805" fill="none" stroke="#eef8ea" stroke-width="20" stroke-linecap="round"/><ellipse cx="1210" cy="1113" rx="30" ry="34" fill="#eef8ea"/><ellipse cx="372" cy="250" rx="14" ry="46" fill="#e6f2e0" transform="rotate(-30 372 250)"/></g></g></g>
<g clip-path="url(#clip3)" filter="url(#desat)"><g transform="translate(658,1276) scale(0.23202)"><g filter="url(#tis3)"><rect x="-10" y="-10" width="1280" height="1500" fill="#d3c8d3"/><path d="M-10 70C17 69 107 61 150 65C193 69 220 88 250 95C280 102 302 116 330 110C358 104 388 74 420 62C452 50 482 39 520 36C558 33 607 39 650 45C693 51 738 56 780 70C822 84 863 112 900 130C937 148 967 163 1000 180C1033 197 1067 213 1100 232C1133 251 1173 276 1200 292C1227 308 1250 324 1260 330L1260 530C1247 517 1207 473 1180 452C1153 431 1122 420 1100 402C1078 384 1075 359 1050 342C1025 325 983 314 950 302C917 290 883 284 850 272C817 260 783 244 750 232C717 220 682 205 650 202C618 199 593 211 560 216C527 221 485 226 450 232C415 238 383 247 350 252C317 257 280 262 250 262C220 262 198 247 170 250C142 253 110 280 80 280C50 280 5 255 -10 250Z" fill="#84709c"/><path d="M-10 250C5 255 50 280 80 280C110 280 142 253 170 250C198 247 220 262 250 262C280 262 317 257 350 252C383 247 415 238 450 232C485 226 527 221 560 216C593 211 618 199 650 202C682 205 717 220 750 232C783 244 817 260 850 272C883 284 917 290 950 302C983 314 1025 325 1050 342C1075 359 1078 384 1100 402C1122 420 1153 431 1180 452C1207 473 1247 517 1260 530L1260 720C1247 707 1207 663 1180 642C1153 621 1122 610 1100 592C1078 574 1075 549 1050 532C1025 515 983 504 950 492C917 480 883 474 850 462C817 450 783 434 750 422C717 410 682 395 650 392C618 389 593 401 560 406C527 411 485 416 450 422C415 428 383 437 350 442C317 447 280 452 250 452C220 452 198 437 170 440C142 443 110 470 80 470C50 470 5 445 -10 440Z" fill="#ddcfcc"/><ellipse cx="195" cy="385" rx="72" ry="110" fill="#d9c9cc"/><ellipse cx="195" cy="385" rx="62" ry="100" fill="#bdbdd2" stroke="#9a88aa" stroke-width="6"/><ellipse cx="815" cy="425" rx="74" ry="105" fill="#d9c9cc"/><ellipse cx="815" cy="425" rx="64" ry="95" fill="#bdbdd2" stroke="#9a88aa" stroke-width="6"/><ellipse cx="1055" cy="475" rx="62" ry="105" fill="#d9c9cc"/><ellipse cx="1055" cy="475" rx="52" ry="95" fill="#bdbdd2" stroke="#9a88aa" stroke-width="6"/><ellipse cx="200" cy="270" rx="45" ry="70" fill="#84709c"/><ellipse cx="1090" cy="380" rx="50" ry="60" fill="#84709c"/><path d="M-10 560C17 483 93 550 150 540C207 530 272 497 330 500C388 503 438 543 500 560C562 577 637 593 700 600C763 607 830 593 880 600C930 607 937 623 1000 640C1063 657 1217 673 1260 700C1303 727 1320 773 1260 800C1200 827 1010 855 900 860C790 865 700 823 600 830C500 837 402 872 300 900C198 928 42 1057 -10 1000C-62 943 -37 637 -10 560Z" fill="#dcdae2" fill-opacity="0.85"/><path d="M150 640C175 603 255 583 300 580C345 577 407 590 420 620C433 650 408 723 380 760C352 797 288 833 250 840C212 847 167 833 150 800C133 767 125 677 150 640Z" fill="#e8f0e6" fill-opacity="0.8"/><path d="M450 600C463 578 542 573 560 590C578 607 573 678 560 700C547 722 498 737 480 720C462 703 437 622 450 600Z" fill="#e8f0e6" fill-opacity="0.7"/><path d="M890 690C898 668 932 647 960 640C988 633 1028 642 1060 650C1092 658 1115 678 1150 690C1185 702 1250 702 1270 720C1290 738 1270 785 1270 800C1270 815 1298 807 1270 808C1242 808 1148 799 1100 803C1052 806 1012 833 980 828C948 823 925 796 910 773C895 750 882 712 890 690Z" fill="#785e98"/><path d="M1050 808C1065 800 1115 820 1150 828C1185 835 1242 827 1260 853C1278 879 1278 969 1260 983C1242 996 1183 951 1150 933C1117 914 1077 894 1060 873C1043 852 1035 815 1050 808Z" fill="#c9c4d6" fill-opacity="0.9"/><path d="M-10 733C12 703 85 738 120 753C155 768 200 796 200 823C200 849 155 894 120 913C85 931 12 963 -10 933C-32 903 -32 763 -10 733Z" fill="#c4b4c6" fill-opacity="0.9"/><path d="M0 983C25 974 100 949 150 933C200 916 250 899 300 883C350 866 400 846 450 833C500 819 550 809 600 803C650 796 708 791 750 793C792 794 833 809 850 813" fill="none" stroke="#a898b8" stroke-width="26" stroke-linecap="round" stroke-opacity="0.8"/><path d="M-10 1258C17 1237 98 1174 150 1135C202 1096 250 1058 300 1025C350 991 400 960 450 935C500 910 558 888 600 875C642 861 667 856 700 855C733 853 758 853 800 865C842 876 900 900 950 925C1000 950 1048 988 1100 1015C1152 1041 1233 1073 1260 1085L1260 1185C1233 1176 1152 1158 1100 1135C1048 1111 1000 1070 950 1045C900 1020 842 997 800 985C758 972 733 970 700 970C667 970 642 972 600 985C558 997 500 1020 450 1045C400 1070 350 1100 300 1135C250 1170 202 1218 150 1255C98 1292 17 1341 -10 1358Z" fill="#b99cb8"/><ellipse cx="775" cy="1068" rx="66" ry="82" fill="#7c649c"/><ellipse cx="800" cy="1133" rx="70" ry="40" fill="#cdc6d4" fill-opacity="0.8"/><path d="M960 1233C977 1223 1060 1233 1100 1243C1140 1253 1173 1278 1200 1293C1227 1308 1250 1319 1260 1333C1270 1346 1287 1371 1260 1373C1233 1374 1143 1354 1100 1343C1057 1331 1023 1321 1000 1303C977 1284 943 1243 960 1233Z" fill="#cfcbd8" fill-opacity="0.95"/><path d="M-10 1373C17 1339 98 1321 150 1293C202 1264 255 1223 300 1203C345 1183 370 1184 420 1173C470 1161 537 1136 600 1133C663 1129 750 1136 800 1153C850 1169 867 1199 900 1233C933 1266 940 1323 1000 1353C1060 1383 1217 1389 1260 1413C1303 1436 1472 1479 1260 1493C1048 1506 202 1513 -10 1493C-222 1473 -37 1406 -10 1373Z" fill="#d5c5cd" fill-opacity="0.85"/><path d="M-10 1438C17 1417 107 1398 150 1378C193 1358 217 1322 250 1318C283 1314 317 1352 350 1355C383 1358 417 1351 450 1335C483 1318 522 1273 550 1255C578 1236 595 1228 620 1225C645 1221 673 1223 700 1235C727 1246 755 1271 780 1295C805 1318 822 1351 850 1375C878 1398 915 1413 950 1435C985 1456 1220 1491 1060 1503C900 1514 168 1514 -10 1503C-188 1492 -37 1459 -10 1438Z" fill="#816a9f"/><path d="M480 1323C493 1314 536 1282 560 1268C584 1254 602 1241 625 1238C648 1234 676 1237 700 1248C724 1259 747 1281 770 1303C793 1324 828 1365 840 1378" fill="none" stroke="#c9a9b8" stroke-width="12" stroke-linecap="round" stroke-opacity="0.9"/><ellipse cx="480" cy="1263" rx="52" ry="62" fill="#cfd6dc" stroke="#84709c" stroke-width="6" transform="rotate(30 480 1263)"/><ellipse cx="325" cy="1338" rx="38" ry="62" fill="#c4c8d6" transform="rotate(10 325 1338)"/><ellipse cx="440" cy="1173" rx="50" ry="34" fill="#7c649c"/></g><g filter="url(#soft2)"><path d="M-30 -30C-245 -14 -40 51 -10 66C20 81 107 57 150 61C193 65 220 84 250 91C280 98 302 112 330 106C358 100 388 70 420 58C452 46 482 35 520 32C558 29 607 35 650 41C693 47 738 52 780 66C822 80 863 108 900 126C937 144 967 159 1000 176C1033 193 1067 209 1100 228C1133 247 1173 272 1200 288C1227 304 1247 379 1260 326C1273 273 1495 29 1280 -30C1065 -89 185 -46 -30 -30Z" fill="#e3eedd"/><path d="M-10 70C17 69 107 61 150 65C193 69 220 88 250 95C280 102 302 116 330 110C358 104 388 74 420 62C452 50 482 39 520 36C558 33 607 39 650 45C693 51 738 56 780 70C822 84 863 112 900 130C937 148 967 163 1000 180C1033 197 1067 213 1100 232C1133 251 1173 276 1200 292C1227 308 1250 324 1260 330" fill="none" stroke="#b06070" stroke-width="8" stroke-linecap="round" stroke-opacity="0.9"/><path d="M-10 1038C17 1029 98 1002 150 983C202 964 250 943 300 923C350 903 400 879 450 863C500 847 550 835 600 828C650 820 708 817 750 818C792 819 822 824 850 833C878 841 908 862 920 868L920 893C908 890 878 880 850 875C822 869 792 860 750 860C708 860 650 865 600 875C550 884 500 896 450 918C400 939 350 970 300 1003C250 1035 202 1079 150 1113C98 1146 17 1188 -10 1203Z" fill="#ecf8e8"/><path d="M375 1138C370 1131 416 1104 440 1093C464 1081 493 1069 520 1068C547 1067 577 1078 600 1088C623 1097 667 1120 660 1125C653 1130 592 1116 560 1118C528 1119 501 1129 470 1133C439 1136 380 1144 375 1138Z" fill="#eef8ea"/><path d="M940 1258C953 1267 990 1299 1020 1313C1050 1327 1080 1332 1120 1343C1160 1353 1237 1369 1260 1375" fill="none" stroke="#eef8ea" stroke-width="28" stroke-linecap="round"/><path d="M1180 1383C1190 1374 1247 1364 1260 1373C1273 1381 1270 1424 1260 1433C1250 1441 1213 1431 1200 1423C1187 1414 1170 1391 1180 1383Z" fill="#eef8ea"/><path d="M540 1513C513 1494 573 1428 585 1403C597 1378 601 1374 610 1363C619 1351 630 1331 640 1333C650 1334 658 1356 668 1373C678 1389 687 1409 700 1433C713 1456 772 1499 745 1513C718 1526 567 1531 540 1513Z" fill="#eff9ec"/><path d="M1201 1103L1190 1098L1180 1099L1167 1110L1163 1121L1165 1129L1187 1164L1192 1169L1200 1171L1207 1170L1213 1165L1225 1144L1227 1137L1223 1127ZM1232 1081L1224 1080L1215 1083L1209 1092L1209 1100L1212 1107L1224 1120L1232 1124L1239 1124L1246 1121L1250 1116L1252 1098L1246 1088ZM951 952L952 941L946 931L912 915L901 916L894 920L890 928L885 967L886 975L892 983L913 995L926 996L935 988ZM764 947L769 958L778 963L809 955L815 947L821 919L821 911L818 905L813 901L806 898L775 899L767 903L761 914ZM1140 1042L1130 1041L1122 1044L1117 1052L1116 1060L1132 1107L1139 1113L1149 1115L1156 1112L1172 1100L1175 1094L1177 1085L1162 1054ZM1051 995L1038 993L1029 999L1025 1010L1029 1022L1035 1027L1068 1045L1076 1045L1084 1042L1091 1030L1087 1018ZM406 969L399 973L395 981L395 995L398 1002L432 1023L441 1023L448 1020L455 1009L455 984L452 975L429 962ZM144 1165L137 1176L140 1189L168 1227L177 1230L188 1228L202 1212L204 1201L201 1193L180 1161L172 1155L164 1154ZM982 1066L991 1068L1001 1065L1021 1034L1022 1020L1018 1012L1013 1008L1003 1006L972 1014L962 1022L959 1030L961 1037L972 1058ZM516 913L507 921L505 932L510 941L522 948L532 949L552 939L560 929L560 914L556 909L550 904L540 904ZM243 1159L254 1165L268 1161L279 1151L285 1129L284 1123L279 1116L254 1099L246 1096L232 1097L225 1100L220 1107L215 1120L218 1131ZM102 1206L98 1213L98 1220L106 1257L112 1265L122 1270L131 1270L162 1248L165 1239L163 1231L135 1192L127 1189L119 1191ZM692 943L691 952L694 959L700 965L711 969L719 969L752 959L757 953L758 946L754 904L751 896L733 883L724 883L717 886L712 893ZM886 926L883 914L874 907L835 909L830 913L826 921L820 948L821 958L850 982L859 984L872 980L880 968ZM318 1091L319 1101L324 1107L332 1111L340 1110L370 1092L375 1083L375 1075L372 1069L352 1048L345 1044L337 1044L330 1047L325 1054ZM292 1040L275 1053L261 1081L260 1092L266 1100L286 1114L299 1116L306 1111L311 1104L319 1053L314 1044L305 1040ZM941 988L939 996L942 1004L949 1010L957 1012L996 1002L1002 996L1004 986L1002 978L987 955L977 949L969 947L961 949L956 954ZM421 1048L427 1038L424 1027L418 1021L397 1010L386 1012L366 1027L359 1038L363 1051L378 1067L386 1071L398 1069ZM630 970L651 958L654 950L652 938L634 914L626 911L617 913L597 935L595 942L597 950L608 966L617 970ZM543 949L535 957L534 969L539 976L559 996L569 998L584 994L599 978L601 970L600 963L584 943L564 939ZM205 1189L214 1196L226 1195L235 1187L242 1173L238 1161L218 1139L208 1135L200 1136L191 1142L185 1153L187 1163ZM20 1254L10 1263L10 1276L24 1311L32 1317L44 1316L49 1313L54 1306L61 1285L60 1275L55 1268L34 1254L27 1252ZM566 918L569 927L576 932L584 933L592 931L612 909L613 901L611 893L605 887L598 885L573 892L566 901ZM484 1022L494 1021L500 1016L525 972L526 964L523 957L509 947L501 947L495 949L466 971L461 978L460 1003L461 1011L469 1019ZM1109 1057L1104 1050L1099 1046L1086 1047L1075 1055L1069 1074L1073 1087L1094 1110L1104 1114L1117 1110L1122 1098ZM1013 1085L1023 1092L1031 1094L1038 1093L1057 1082L1063 1075L1066 1063L1064 1051L1040 1036L1034 1036L1026 1038L1021 1044L1008 1067L1008 1076ZM94 1225L90 1218L84 1214L69 1211L63 1212L41 1229L37 1238L38 1246L43 1254L65 1268L74 1269L87 1266L95 1260L99 1253ZM642 885L636 893L636 903L659 940L670 947L683 945L689 938L704 900L704 892L701 886L694 880L664 872L655 874Z" fill="#eef9ea" stroke="#5e4468" stroke-width="3.5" stroke-linejoin="round"/></g><g filter="url(#soft2)"><path d="M50 242l0 3M45 176l1 2M131 190l-1 2M415 222l1 2M1211 470l-0 2M45 249l0 2M1061 285l0 3M4 169l-0 1M131 177l-0 3M111 206l-0 3M978 219l1 2M582 65l0 2M439 70l-0 3M1156 368l0 2M789 100l1 2M384 176l-0 2M186 158l1 2M227 110l-1 2M1130 397l0 2M345 222l0 2M141 156l0 2M1244 490l1 2M78 228l-0 2M381 217l1 1M1139 391l-0 2M939 170l0 2M53 81l-1 2M216 134l1 2M411 151l0 3M784 207l1 2M1150 401l-1 2M226 107l0 2M276 142l-1 3M367 167l1 2M579 173l-1 2M678 154l-1 1M704 172l-0 1M522 172l1 1M114 91l-0 1M421 77l-0 2M1021 295l0 2M1141 321l0 2M739 197l-1 2M689 182l-1 2M899 144l-1 3M176 165l-0 2M500 60l-1 3M525 163l0 1M24 128l-0 2M434 141l1 2M12 236l-1 1M930 240l1 1M485 128l0 2M47 194l-0 2M477 166l1 2M581 115l1 2M657 179l-0 2M1137 406l-1 3M1205 344l0 1M1247 374l0 1M560 65l-0 2M348 205l0 2M334 196l-1 3M733 106l-0 3M893 274l1 3M1091 346l0 2M939 195l-0 2M923 244l1 3M316 121l-1 2M144 216l1 2M966 187l0 2M142 216l1 2M812 212l1 2M1083 273l-1 2M739 94l0 3M158 193l1 2M789 95l-1 1M473 67l1 2M399 182l1 2M283 236l-1 1M444 186l-1 3M688 128l0 2M1136 341l1 2M689 129l1 2M933 288l-0 2M667 160l1 1M1130 389l-0 3M550 162l-1 2M142 145l1 3M70 116l1 1M129 177l-0 3M6 101l0 2M1220 457l-0 2M1078 354l1 2M159 131l-1 2M1179 338l0 2M641 63l-1 2M587 92l-0 2M259 238l0 1M1224 400l1 2M1088 319l-1 2M23 190l1 2M739 212l-1 2M1225 400l-0 2M1021 273l-0 2M552 192l-0 2M673 118l-1 1M813 247l1 2M342 121l1 2M167 146l0 2M1032 282l0 3M387 167l1 2M392 166l0 1M370 181l-1 1M534 184l-0 2M539 185l-1 2M44 175l0 1M923 191l1 3M1214 429l1 2M1042 217l1 2M230 246l-0 3M324 168l-0 2M373 178l1 1M1146 408l0 2M858 246l-1 2M138 199l-0 2M990 278l-0 3M629 56l-0 2M961 186l-0 2M999 249l1 3M988 240l0 2M714 110l-0 1M347 161l1 3M691 89l1 2M696 157l0 2M374 184l1 2M1016 213l-1 2M250 174l-1 2M1092 330l1 1M720 141l1 2M49 256l-1 3M363 110l-1 3M890 181l-0 2M1008 228l-1 2M320 185l-1 2M989 287l-0 3M839 130l1 2M581 166l1 2M235 146l0 3M719 112l-1 1" stroke="#4e3c7a" stroke-opacity="0.5" stroke-width="9" stroke-linecap="round" fill="none"/><path d="M316 869l3 -2M245 480l4 -3M303 689l4 1M634 537l5 2M650 701l6 -3M495 772l4 -1M645 594l5 -2M882 706l7 -2M19 883l4 3M558 494l7 0M163 404l7 1M862 716l5 -3M567 809l4 -1M981 500l8 -1M857 509l6 -3M719 419l5 1M525 468l4 -1M457 708l7 -4M489 469l7 4M294 843l7 3M18 717l4 3M710 708l4 3M42 536l5 -2M795 593l7 -2M374 429l7 -1M437 474l5 0M835 637l4 -2M486 723l5 -2M428 830l7 1M896 803l6 1M561 702l7 2M8 1016l5 -2M487 556l7 -2M117 682l5 2M415 865l6 -0M789 777l4 1M479 743l4 0M505 561l5 3M294 737l5 3M1033 530l5 -1M463 398l4 2M994 848l8 2M94 823l6 3M105 829l5 -1M636 743l6 -0M740 507l7 2M843 684l5 -1M206 802l7 1M324 752l6 3M104 978l7 3M166 691l5 2M345 450l4 -2M496 819l5 0M910 469l4 3M191 468l5 3M248 653l4 2M564 695l7 -2M106 526l7 -2M137 823l5 -1M561 549l6 -2M533 652l5 -1M807 472l7 2M817 764l4 -1M220 735l6 -1M1100 560l6 4M460 543l4 3M238 655l6 5M832 748l3 -3M258 429l7 -0M334 486l7 0M350 422l4 -2M49 464l6 2M51 852l5 -2M773 734l3 -2M773 689l3 2M196 476l6 -2M1047 543l4 1M864 773l4 -1M492 430l6 -4M405 444l4 2M136 638l7 4M569 716l6 0M329 841l5 4M309 865l5 0M11 503l4 2M128 912l7 -1M1066 601l5 1M53 954l6 1M371 429l6 -4M489 568l7 -1M223 575l6 4M310 674l5 1M868 726l5 -3M596 514l6 -3M502 806l7 -3M622 666l4 3M887 465l7 1M254 885l7 1M589 572l5 -3M754 407l7 3M261 698l4 2M363 428l4 2M376 616l6 2M224 841l5 -2M688 532l4 3M308 739l6 4M29 505l6 3M405 630l5 -2M260 612l5 -2M311 903l6 5M363 478l6 2M462 429l5 2M679 616l6 -5M902 541l4 2M820 611l6 3M304 453l5 0M548 669l7 -2M828 446l6 -4M78 898l5 -4M16 699l5 -3M460 477l4 -3M107 636l5 0M400 673l7 -4M515 450l6 4M500 640l4 -1M461 490l6 1M799 727l4 0M361 408l6 4M610 495l4 2M422 508l4 2M893 439l4 -2M308 724l6 -4M766 504l4 2M248 721l7 -3M774 565l6 -1M448 476l3 2M696 390l8 -1M129 802l7 -0M358 584l5 2M859 526l7 1M732 380l6 3M271 455l4 2M456 734l4 -1M209 658l7 -3M376 591l7 -1M165 669l7 2M705 536l5 4M20 477l3 -2M583 516l4 -4M82 571l6 -2M460 668l6 2M24 510l5 3M233 871l3 -2M434 609l3 2M404 709l5 -2M980 565l4 -3M480 604l4 1M788 698l5 3M998 548l6 -2M11 664l5 2M678 675l5 0M213 418l4 0M120 833l7 -2M407 824l6 2M251 782l4 1M535 805l4 -2M648 525l5 -0M261 507l5 -2M754 726l3 2M175 828l5 -1M996 530l4 -0M1213 846l6 -0M593 698l5 1M223 834l4 2M801 461l5 4M130 578l5 -3M45 951l5 1M829 572l5 4M1130 587l7 -1M244 568l5 -2M241 891l6 4M565 521l8 0M404 432l5 1M307 432l8 -1M676 800l6 -4M523 589l5 3M870 461l4 1M604 580l7 -4M878 628l6 4M753 687l4 -2M400 657l5 -2M843 764l3 -2M367 754l7 -0M811 686l6 1M447 840l6 3M949 587l5 2M671 461l4 1M188 447l6 -3M113 834l7 3M515 575l5 3M418 625l7 3M90 907l4 2M223 680l6 1M187 622l7 -1M83 575l8 -1M882 696l4 -3M823 480l4 1M207 474l4 2M636 676l7 2M199 937l8 2M207 921l5 -3M252 491l7 -2M135 593l8 -1M230 435l5 2M218 748l6 -3M790 704l7 3M61 814l5 1M79 436l7 -0M316 530l6 4M61 747l4 -2M162 760l5 1M318 465l4 -2M524 443l7 -0M274 552l4 -1M1105 621l4 -3M156 535l5 4M187 481l4 1M322 485l4 3M861 674l4 -3M594 633l4 3M54 668l6 4M394 723l3 2M885 704l5 0M446 426l6 -1M1045 535l5 -0M299 817l7 -1M400 485l5 1M570 748l7 -2M692 642l3 -1M118 594l5 -3M889 545l4 3M457 437l5 -0M784 498l4 -1M560 497l4 2M621 584l6 -4M670 433l4 1M501 770l4 -1M431 691l4 0M573 641l3 -2M608 564l6 4M482 704l8 1M502 396l4 -3M446 550l5 2M449 494l4 0M188 874l7 -1M91 576l4 2M512 450l5 -3M23 707l4 -1M659 618l8 1M403 710l4 -1M309 748l6 -4M369 674l6 3M173 527l7 4M194 834l4 3M37 724l7 -2M1 926l7 4M522 422l6 0M590 437l7 3M1198 640l6 1M897 452l8 -1M313 863l5 -2M459 600l5 3M65 635l5 2M258 630l4 2M676 421l3 -1M533 589l4 -3M93 904l6 -3M923 479l4 3M811 434l5 -1M11 469l7 0M350 446l7 -4M894 702l4 -1M313 750l5 4M870 829l4 3M1095 608l6 -4M207 875l6 -3M394 847l4 2M21 991l7 -3M281 742l6 -5M485 809l6 -3M375 855l6 2M447 723l6 1M335 654l3 2M549 443l7 -2M873 672l3 2M403 594l6 2M666 383l6 0M571 506l7 0M413 561l5 -2M238 633l5 -4M554 633l3 1M125 749l5 1M1019 577l6 4M842 480l6 -0M52 633l4 2M506 498l4 -1M1039 538l3 -2M926 616l4 -2M350 844l7 -0M210 449l6 1M133 865l7 -2M641 804l5 1M454 560l6 3M345 739l5 1M557 764l3 -2M530 415l4 -1M337 778l4 -1M153 610l7 0M30 601l5 0M272 616l4 3M736 396l7 -4M620 411l5 2M621 685l5 -3M688 681l5 -2M193 891l8 0M255 466l4 -0M795 600l7 -0M661 580l6 3M394 591l6 2M294 457l4 -1M307 531l4 -2M252 839l6 -3M1173 599l8 0M259 797l6 -3M471 765l5 -1M622 787l4 2M754 578l6 -4M895 623l5 1M727 647l6 -2M259 459l4 -2M715 566l5 -3M705 757l5 -2M188 847l7 -0M615 648l4 0M255 866l7 1M1 860l5 -1M416 494l6 2M596 628l6 2M815 501l6 1M459 791l7 -2M348 800l6 -5M527 738l4 1M347 854l6 3M999 512l5 -1M879 447l4 1M406 454l5 -1M34 766l5 -2M454 755l4 -2M169 630l6 5M457 771l6 3M11 434l5 -3M578 453l4 0M685 702l5 -3M236 855l6 1M591 455l4 1M665 434l6 1M751 526l5 0M91 471l7 -4M139 748l6 3M306 885l6 1M262 771l6 0M665 735l5 3M681 592l5 -2M13 467l6 -2M963 461l7 3M171 856l5 3M3 953l6 -1M878 747l5 3M404 431l6 -0M764 400l7 2M877 793l5 4M307 889l5 -2M495 737l5 1M95 501l7 2M25 699l4 -1M94 662l4 2M601 416l6 -3M727 536l6 -5M187 638l6 2M547 736l3 -2M164 474l4 -1M983 479l5 -3M78 879l3 2M138 661l4 -0M674 408l7 -3M616 766l5 1M863 477l7 4M1024 614l6 -2M180 459l6 2M601 506l5 2M459 530l4 1M143 586l5 4M389 610l4 -2M257 536l7 -2M137 815l7 0M398 633l3 -3M525 665l7 -2M1127 849l5 -1M513 708l8 -1M1057 527l5 -3M490 626l7 -2M392 812l4 2M847 536l7 -2M471 461l3 -2M615 801l5 -2M840 438l5 4M1093 582l7 -2M101 987l8 1M118 864l6 -0M44 610l7 -0M373 465l6 2M862 501l7 -2M10 614l4 -3M935 594l7 2M702 749l7 -3M359 761l6 4M542 707l4 1M21 506l6 2M627 702l4 1M204 852l4 -2M891 793l4 0M1017 631l4 -1M11 712l6 1M247 677l4 1M477 533l3 -2M182 835l4 -1M76 680l6 1M191 782l4 1M816 664l8 -1M451 814l4 1M515 729l7 -1M734 477l7 -1M533 656l7 3M219 749l5 3M106 851l8 1M1066 607l5 1M423 623l5 2M350 686l3 -3M219 873l5 -3M95 482l6 -5M317 784l6 5M681 571l6 -5M134 868l4 -1M800 426l8 0M547 585l4 -0M313 577l6 4M592 631l6 -2M245 832l5 -1M903 639l4 3M294 739l5 1M583 546l4 -1M976 500l7 -5M819 708l3 -1M226 449l3 -2M43 620l7 4M716 650l6 0M1044 579l6 2M762 410l6 -1M468 556l4 -1M995 480l4 -2M555 526l6 4M410 581l7 4M528 572l6 3M281 730l6 -3M584 694l6 1M364 782l5 2M156 703l5 -2M824 578l6 1M370 703l4 2M153 546l7 1M182 459l4 -1M526 593l7 0M120 560l8 -1M889 753l4 2M664 709l6 4M684 586l3 1M728 626l4 -2M307 787l5 2M452 445l7 2M460 672l4 -1M749 638l4 -3M582 679l6 1M166 769l6 -4M427 581l4 -2M262 912l4 0M514 633l4 2M478 396l4 3M15 861l4 -2M30 488l6 -4M960 488l7 -1M800 692l4 -1M293 738l6 4M173 920l8 1M384 875l6 2M663 468l7 2M415 634l8 1M725 792l4 -3M201 496l7 -1M1006 840l6 -1M544 781l6 1M1082 597l6 -0M85 513l4 -2M1087 597l7 2M100 916l5 3M748 633l4 1M108 837l5 -4M445 753l5 -4M182 553l8 -1M793 648l6 3M285 431l5 4M262 493l7 -3M109 641l4 -1M98 619l4 1M179 541l6 1M587 376l5 -4M562 779l8 2M303 764l7 -1M761 537l6 -0M316 620l4 -1M34 425l7 2M821 539l6 1M158 484l7 4M490 752l5 2M670 683l4 3M210 813l5 1M716 500l4 1M339 631l4 1M179 548l5 -3M692 653l7 3M236 818l5 -1M1089 610l6 3M659 520l4 1M824 670l5 -1M408 501l8 -1M752 409l4 -3M710 573l5 -1M338 826l4 4M281 639l4 2M614 456l7 -1M119 590l4 1M504 427l7 -2M635 359l5 3M150 604l8 2M366 480l5 4M160 728l3 -3M640 587l4 -0M189 615l7 0M586 606l7 -0M602 761l4 1M963 553l6 -2M207 754l7 -4M329 638l6 -4M368 422l5 -3M543 620l6 -0M311 734l3 -1M46 898l5 -2M30 422l4 -2M1246 840l8 -1M762 522l4 -3M359 475l7 -1M455 436l5 0M764 438l3 2M383 459l7 1M568 547l6 2M470 687l7 2M372 813l7 -1M89 541l7 2M31 499l5 1M552 458l6 -5M874 827l4 -1M111 601l6 -3M745 548l4 2M753 569l7 3M800 510l5 -2M1126 853l4 1M1173 626l7 -1M816 459l5 -0M100 433l5 -3M265 631l6 2M741 457l5 0M672 398l7 -0M850 466l5 -3M109 692l5 -1M220 408l4 -0M403 705l7 1M22 480l6 1M474 629l4 -3M366 429l5 -0M823 513l4 -0M673 430l6 4M50 960l7 -2M438 612l4 -1M665 364l4 -1M688 418l7 -3M374 448l7 -1M110 925l4 -3M559 765l3 2M369 523l4 2M194 856l6 -0M1063 635l4 -3M194 804l5 1M321 830l6 2M94 501l5 3M613 427l4 -2M718 574l3 -1M140 482l6 -1M10 866l6 1M199 816l5 2M102 546l6 0M485 503l7 3" stroke="#2e2448" stroke-opacity="0.8" stroke-width="9" stroke-linecap="round" fill="none"/><path d="M617 307l11 -2M516 250l8 6M249 370l6 2M412 341l7 2M423 371l8 -5M369 362l8 -6M786 301l9 -0M950 410l9 5M857 361l5 3M497 277l10 -2M489 340l7 3M1144 487l7 2M935 334l6 -5M215 320l5 1M332 324l6 -0M535 319l6 -2M301 406l9 -2M1110 533l9 -4M710 250l9 -6M929 444l8 -3M877 342l11 2M912 365l7 -3M843 352l10 2M343 391l5 -3M391 391l7 3M779 379l9 1M442 367l6 2M594 240l10 -3M579 277l9 -5M916 345l6 -5M95 298l8 6M1138 480l10 3M252 409l7 -2M1109 485l10 -3M935 333l7 -5M276 291l11 2M10 285l7 3M420 364l8 -3M109 308l6 0M1188 588l6 2M994 345l7 5M85 342l5 -1M288 351l8 4M410 288l8 -1M518 249l4 -3M1213 535l10 -2M688 254l7 -2M585 323l7 -2M457 368l5 0M326 305l10 4M929 376l6 -3M848 358l7 3M269 280l7 3M222 380l4 3M648 254l10 4M50 406l6 1M882 382l6 2M565 257l8 2M566 261l7 -2M533 277l7 -3M303 310l11 1M752 365l8 4M72 427l7 -2M483 359l10 4M920 328l9 -3M1194 616l6 -1M1092 539l9 2M943 356l6 -1M1020 408l7 2M74 317l8 3" stroke="#4a3868" stroke-opacity="0.6" stroke-width="8.5" stroke-linecap="round" fill="none"/><path d="M711 1293l6 -2M571 1258l6 3M459 1275l7 0M592 1031l8 2M1008 1281l10 -0M473 1366l9 -5M518 1363l9 -6M787 1202l9 4M1103 1271l5 -2M814 1224l7 5M599 1281l6 3M676 1248l8 1M265 1204l8 3M1053 1170l10 -1M679 1128l10 -0M951 1164l9 -3M1018 1305l9 1M59 1346l8 -4M759 1400l7 -5M168 1309l6 -3M1090 1366l9 -5M1177 1213l8 5M1097 1382l7 -2M927 1118l8 -0M820 1207l8 -2M843 1034l7 -3M275 1386l8 -4M956 1161l9 2M1087 1227l10 -3M845 1045l7 -0M655 1138l8 -3M1215 1365l9 5M90 1336l9 -3M863 1390l6 -1M532 1044l8 -3M1165 1253l5 2M754 1404l5 4M42 1344l7 0M565 1118l6 1M759 1136l8 1M276 1335l7 1M1048 1363l8 -1M624 1048l6 2M870 1068l11 1M786 1403l10 -5M849 1210l8 -1M735 1313l7 3M472 1413l6 3M60 1407l7 3M1107 1379l6 -2M1087 1213l10 -2M1036 1158l6 -1M565 1034l10 -1M466 1184l10 -0M1225 1202l8 -3M949 1221l7 5M741 1257l10 -3M547 1037l9 3M323 1330l5 4M1140 1273l8 4M597 1176l7 -1M689 1113l6 -3M17 1368l8 5M835 1260l6 -2M457 1181l5 -1M1103 1198l8 -1M941 1072l7 1M1054 1155l5 -4M807 1117l4 -2M1226 1245l11 -3M904 1141l5 -3M869 1316l5 4M842 1365l9 6M156 1362l6 -4M1209 1209l7 -5M618 1253l9 -0M1161 1378l9 -5M292 1372l8 3M806 1271l8 5M960 1391l7 4M238 1359l9 3M613 1139l4 3M673 994l5 1M1023 1172l7 -2M1056 1239l4 -3M701 1119l7 1M489 1376l8 -3M491 1386l5 4M397 1159l8 -5M1128 1237l9 -0M103 1303l9 -5M603 1069l5 4M641 1360l8 -6M418 1417l5 2M688 1014l9 5M431 1094l6 -4M975 1312l6 -3M426 1376l10 1M492 1145l6 1M578 1419l6 -1M1029 1198l9 -5M992 1313l7 -5M193 1377l6 2M385 1228l8 -6M355 1336l6 4M1067 1310l6 -1M871 1228l10 -0M156 1401l7 5M768 1414l8 3M430 1232l8 -1M874 1108l7 0M488 1305l5 1M723 1164l5 2M757 1293l7 1M701 1176l7 2M864 1232l5 -1M962 1417l9 1M401 1351l8 -0M888 1187l6 -2M371 1187l10 -4M950 1331l9 4M949 1319l8 -4M1001 1361l9 -2M877 1144l8 1M1122 1417l10 2M552 1332l9 3M564 1366l7 -1M1004 1303l8 0M695 1215l10 2M518 1419l11 2M380 1290l7 3M649 1271l7 -3M1063 1230l8 1M880 1378l5 -1M1016 1173l8 6M389 1211l6 -1M270 1212l8 -3M201 1283l5 -2M852 1428l9 4M931 1143l7 3M1101 1303l7 -5M703 1011l5 1M1086 1322l5 0M800 1418l8 -6M633 1429l8 1M706 1016l10 -2M500 1082l8 -3M505 1354l7 -0M312 1411l5 -0M728 1047l6 4M524 1094l4 -2M1010 1207l9 -5M446 1375l8 6M1192 1362l7 -0M995 1354l7 2M628 1250l7 -0M984 1177l10 2M433 1163l10 4M382 1427l7 4M1016 1127l7 -4M693 1234l6 4M160 1278l7 2M220 1419l6 -0M353 1215l9 1M625 1219l9 3M978 1419l10 1M1003 1144l9 -5M745 1114l6 -2M617 1302l10 -4M1000 1092l5 -2M1022 1402l7 -5M722 1339l6 -0M1029 1122l5 4M748 1377l10 -3M740 1140l7 2M617 1235l5 0M630 1304l8 -2M643 1397l9 5M205 1294l9 6M759 1052l7 -6M805 1012l8 -1M896 1204l7 3M992 1258l6 -2M478 1323l10 -2M325 1159l5 4M363 1413l5 3M892 1197l8 -0M437 1418l5 3M952 1395l5 -2M379 1418l8 -7M598 1059l6 2M485 1220l9 -4M558 1067l5 2M408 1197l7 -2M472 1081l7 6M524 1254l5 -3M572 1280l8 6M1139 1385l8 5M1127 1416l10 1M457 1282l6 3" stroke="#3a2e5a" stroke-opacity="0.7" stroke-width="8.5" stroke-linecap="round" fill="none"/><path d="M968 900l7 4M1062 931l9 4M1158 996l6 -4M1245 872l9 -0M1046 914l6 -2M1101 881l8 -7M1113 906l7 2M1169 875l8 -4M1199 952l9 2M934 895l6 -0M1215 905l9 -6M1026 864l7 -0M1048 879l7 -1M1221 1007l9 4M920 853l5 -2M956 865l7 -4M1196 1043l9 4M1052 898l5 -2M989 816l8 -0M1227 1041l8 -4M1061 880l7 5M1013 871l9 6M1022 941l5 -1M1097 815l6 -2M1156 1010l8 -6M1028 858l8 -3M1090 894l10 3M1228 921l8 6M1075 924l6 4M1194 972l4 -3M1175 898l8 -6M1048 973l7 5M1105 871l7 -5M1173 851l7 -0M1080 821l9 4M1118 840l6 4M1060 977l6 3M1248 1066l5 -2M1166 823l4 -3M1076 972l9 4M1150 871l7 1M948 907l9 5M956 845l8 -4M1070 875l7 1M1046 967l6 -2M1146 846l10 0M1075 959l10 -0M1213 1007l5 3M903 830l6 -1M1040 930l5 -4M1119 1002l5 2M1124 862l7 3M1078 888l10 -2M1133 853l9 -4M1069 858l6 -1M1028 942l7 -3M1200 857l8 1M1113 955l7 -2M1174 1034l7 5M926 865l7 3M1238 871l4 -3M1196 981l7 5M910 885l6 -3M1238 894l9 -1M1043 928l7 2M1225 822l8 4M997 920l6 4M910 893l10 1M1027 899l10 4M1219 871l5 -1M1153 906l6 -2M972 846l6 1M1228 995l10 0M1147 842l5 1M1045 843l5 3M1181 903l6 -5M1129 973l7 -2M1123 970l9 3M1099 938l5 2M905 827l9 4M1217 930l6 -1M986 837l8 0M1165 940l4 2M1013 883l10 1M1238 959l7 0M1249 839l9 6M1219 861l6 1M1025 907l8 3M1145 889l10 -4M920 885l6 2M1049 885l9 0M1053 825l9 4M985 836l5 -2M1074 973l6 2M977 820l6 4M1140 951l5 -2M1247 982l7 6M1217 885l8 -4M1245 996l10 2M978 818l6 1M1211 1010l9 2M1178 831l5 3M1225 868l7 2M958 867l6 1M1193 1022l6 -4M1042 951l7 -5M1208 938l8 3M1230 886l7 -2M1085 846l5 4M1091 814l5 -1M1071 832l7 -2M1246 855l7 2M1188 845l9 5M1195 983l9 4M1234 1048l10 5M938 857l6 -4M1082 822l6 -0M1224 880l8 3M950 875l8 6M1163 962l6 4" stroke="#2e2448" stroke-opacity="0.8" stroke-width="8.5" stroke-linecap="round" fill="none"/></g><g filter="url(#soft2)"><path d="M430 365C438 354 496 348 520 350C544 352 568 370 575 380C582 390 578 406 560 412C542 418 492 423 470 415C448 407 422 376 430 365Z" fill="#eef8ea"/><path d="M620 380C630 372 682 378 700 385C718 392 725 409 725 420C725 431 714 448 700 450C686 452 653 442 640 430C627 418 610 388 620 380Z" fill="#eef8ea"/><path d="M520 470C532 462 570 450 600 455C630 460 672 482 700 500C728 518 770 548 770 560C770 572 728 580 700 575C672 570 628 542 600 530C572 518 543 515 530 505C517 495 508 478 520 470Z" fill="#eef8ea"/><path d="M270 440C277 430 317 415 330 415C343 415 357 430 350 440C343 450 303 475 290 475C277 475 263 450 270 440Z" fill="#eef8ea"/><path d="M1150 580C1152 568 1172 553 1190 560C1208 567 1248 603 1260 620C1272 637 1273 658 1260 660C1247 662 1198 643 1180 630C1162 617 1148 592 1150 580Z" fill="#eef8ea"/><path d="M170 650C190 622 253 602 290 600C327 598 378 617 390 640C402 663 383 713 360 740C337 767 282 795 250 800C218 805 183 795 170 770C157 745 150 678 170 650Z" fill="#e8f0e6" fill-opacity="0.55"/><path d="M460 610C471 592 535 587 550 600C565 613 561 672 550 690C539 708 500 718 485 705C470 692 449 628 460 610Z" fill="#e8f0e6" fill-opacity="0.5"/><ellipse cx="195" cy="385" rx="62" ry="100" fill="#bdbdd2" stroke="#9a88aa" stroke-width="6" fill-opacity="0.8"/><ellipse cx="815" cy="425" rx="64" ry="95" fill="#bdbdd2" stroke="#9a88aa" stroke-width="6" fill-opacity="0.8"/><ellipse cx="1055" cy="475" rx="52" ry="95" fill="#bdbdd2" stroke="#9a88aa" stroke-width="6" fill-opacity="0.8"/><path d="M375 1138C370 1131 416 1104 440 1093C464 1081 493 1069 520 1068C547 1067 577 1078 600 1088C623 1097 667 1120 660 1125C653 1130 592 1116 560 1118C528 1119 501 1129 470 1133C439 1136 380 1144 375 1138Z" fill="#eef8ea"/><path d="M940 1258C953 1267 990 1299 1020 1313C1050 1327 1080 1332 1120 1343C1160 1353 1237 1369 1260 1375" fill="none" stroke="#eef8ea" stroke-width="28" stroke-linecap="round"/><path d="M540 1513C513 1494 573 1428 585 1403C597 1378 601 1374 610 1363C619 1351 630 1331 640 1333C650 1334 658 1356 668 1373C678 1389 687 1409 700 1433C713 1456 772 1499 745 1513C718 1526 567 1531 540 1513Z" fill="#eff9ec"/><ellipse cx="480" cy="1263" rx="50" ry="60" fill="#cfd6dc" stroke="#8a76a6" stroke-width="6" fill-opacity="0.85" transform="rotate(30 480 1263)"/></g></g></g>
<g clip-path="url(#clip4)" filter="url(#desat)"><g transform="translate(960,1276) scale(0.23202)"><g filter="url(#tis4)"><rect x="-10" y="-10" width="1280" height="1500" fill="#aa94ac"/><path d="M-10 178C17 176 98 171 150 166C202 161 258 157 300 150C342 143 363 128 400 122C437 116 487 107 520 112C553 117 578 142 600 150C622 158 633 161 650 160C667 159 675 144 700 142C725 140 767 145 800 150C833 155 867 160 900 170C933 180 967 200 1000 210C1033 220 1067 223 1100 232C1133 241 1173 252 1200 262C1227 272 1250 290 1260 295L1260 505C1242 501 1185 491 1150 482C1115 473 1083 462 1050 452C1017 442 983 434 950 422C917 410 882 395 850 382C818 369 788 347 760 342C732 337 707 342 680 352C653 362 630 392 600 402C570 412 533 407 500 412C467 417 433 425 400 432C367 439 333 449 300 452C267 455 233 449 200 452C167 455 135 463 100 472C65 481 8 500 -10 505Z" fill="#7c6490"/><path d="M-10 178C17 176 98 171 150 166C202 161 258 157 300 150C342 143 363 128 400 122C437 116 487 107 520 112C553 117 578 142 600 150C622 158 633 161 650 160C667 159 675 144 700 142C725 140 767 145 800 150C833 155 867 160 900 170C933 180 967 200 1000 210C1033 220 1067 223 1100 232C1133 241 1173 252 1200 262C1227 272 1250 290 1260 295L1260 365C1250 360 1227 342 1200 332C1173 322 1133 311 1100 302C1067 293 1033 290 1000 280C967 270 933 250 900 240C867 230 833 225 800 220C767 215 725 210 700 212C675 214 667 229 650 230C633 231 622 228 600 220C578 212 553 187 520 182C487 177 437 186 400 192C363 198 342 213 300 220C258 227 202 231 150 236C98 241 17 246 -10 248Z" fill="#9a6e94" fill-opacity="0.8"/><path d="M-10 505C8 500 65 481 100 472C135 463 167 455 200 452C233 449 267 455 300 452C333 449 367 439 400 432C433 425 467 417 500 412C533 407 570 412 600 402C630 392 653 362 680 352C707 342 732 337 760 342C788 347 818 369 850 382C882 395 917 410 950 422C983 434 1017 442 1050 452C1083 462 1115 473 1150 482C1185 491 1242 501 1260 505L1260 735C1242 731 1185 721 1150 712C1115 703 1083 692 1050 682C1017 672 983 664 950 652C917 640 882 625 850 612C818 599 788 577 760 572C732 567 707 572 680 582C653 592 630 622 600 632C570 642 533 637 500 642C467 647 433 655 400 662C367 669 333 679 300 682C267 685 233 679 200 682C167 685 135 693 100 702C65 711 8 730 -10 735Z" fill="#b8a0b4" fill-opacity="0.85"/><ellipse cx="785" cy="520" rx="95" ry="118" fill="#cbb4c0"/><ellipse cx="785" cy="525" rx="78" ry="100" fill="#6e5888"/><ellipse cx="735" cy="495" rx="34" ry="44" fill="#d8e2da"/><ellipse cx="745" cy="570" rx="32" ry="36" fill="#d8e2da"/><ellipse cx="815" cy="470" rx="26" ry="44" fill="#e6eee2"/><ellipse cx="835" cy="545" rx="24" ry="34" fill="#d8e2da"/><path d="M-10 1375C5 1347 45 1253 80 1207C115 1160 155 1127 200 1097C245 1067 300 1043 350 1027C400 1010 442 1000 500 997C558 993 633 1003 700 1007C767 1010 833 1018 900 1017C967 1015 1040 1002 1100 997C1160 992 1233 988 1260 987L1260 1208C1233 1219 1143 1256 1100 1278C1057 1299 1042 1316 1000 1338C958 1359 900 1408 850 1408C800 1408 742 1359 700 1338C658 1316 642 1291 600 1278C558 1264 500 1254 450 1258C400 1261 342 1278 300 1298C258 1318 233 1339 200 1378C167 1417 135 1490 100 1533C65 1575 8 1616 -10 1633Z" fill="#b896b6"/><path d="M100 1533C117 1509 167 1421 200 1383C233 1344 258 1323 300 1303C342 1283 400 1266 450 1263C500 1259 558 1269 600 1283C642 1296 658 1321 700 1343C742 1364 812 1398 850 1413C888 1428 922 1414 930 1433C938 1451 1038 1508 900 1523C762 1538 233 1521 100 1523C-33 1524 83 1556 100 1533Z" fill="#b5a6c6"/><path d="M1000 1343C1033 1318 1057 1304 1100 1283C1143 1261 1233 1201 1260 1213C1287 1224 1278 1333 1260 1353C1242 1373 1193 1323 1150 1333C1107 1343 1042 1396 1000 1413C958 1429 900 1444 900 1433C900 1421 967 1368 1000 1343Z" fill="#b5a4c2"/></g><g filter="url(#soft2)"><path d="M-30 -30C-245 4 -40 142 -10 174C20 206 98 167 150 162C202 157 258 153 300 146C342 139 363 124 400 118C437 112 487 103 520 108C553 113 578 138 600 146C622 154 633 157 650 156C667 155 675 140 700 138C725 136 767 141 800 146C833 151 867 156 900 166C933 176 967 196 1000 206C1033 216 1067 219 1100 228C1133 237 1173 248 1200 258C1227 268 1247 339 1260 291C1273 243 1495 24 1280 -30C1065 -84 185 -64 -30 -30Z" fill="#e1efda"/><path d="M-10 184C17 182 98 177 150 172C202 167 258 163 300 156C342 149 363 134 400 128C437 122 487 113 520 118C553 123 578 148 600 156C622 164 633 167 650 166C667 165 675 150 700 148C725 146 767 151 800 156C833 161 867 166 900 176C933 186 967 206 1000 216C1033 226 1067 229 1100 238C1133 247 1173 258 1200 268C1227 278 1250 296 1260 301" fill="none" stroke="#c06a58" stroke-width="15" stroke-linecap="round" stroke-opacity="0.95"/><path d="M370 72C380 71 412 64 430 64C448 64 472 69 480 70" fill="none" stroke="#a8603c" stroke-width="9" stroke-linecap="round"/><path d="M400 100C412 98 447 86 470 88C493 90 528 106 540 110" fill="none" stroke="#b87058" stroke-width="8" stroke-linecap="round"/><path d="M640 142C653 135 693 109 720 100C747 91 773 91 800 86C827 81 858 66 880 70C902 74 913 93 930 110C947 127 962 150 980 170C998 190 1030 218 1040 228" fill="none" stroke="#b07860" stroke-width="16" stroke-linecap="round"/><path d="M740 44C750 46 785 59 800 58C815 57 825 43 830 40" fill="none" stroke="#a87860" stroke-width="8" stroke-linecap="round"/><path d="M850 52C862 57 900 65 920 80C940 95 962 130 970 140" fill="none" stroke="#b08a78" stroke-width="10" stroke-linecap="round"/><path d="M1010 152C1025 156 1072 166 1100 175C1128 184 1157 194 1180 205C1203 216 1230 234 1240 240" fill="none" stroke="#b07860" stroke-width="15" stroke-linecap="round"/><path d="M1040 140C1053 143 1107 157 1120 160" fill="none" stroke="#a8704a" stroke-width="8" stroke-linecap="round"/><path d="M-10 1158C8 1137 57 1069 100 1035C143 1001 200 976 250 955C300 933 342 917 400 905C458 893 533 886 600 883C667 879 733 881 800 883C867 884 923 887 1000 893C1077 898 1217 911 1260 915L1260 995C1233 996 1160 1000 1100 1005C1040 1010 967 1023 900 1025C833 1026 767 1018 700 1015C633 1011 558 1001 500 1005C442 1008 400 1018 350 1035C300 1051 245 1075 200 1105C155 1135 115 1168 80 1215C45 1261 5 1355 -10 1383Z" fill="#e4f4e0"/><path d="M780 933C800 935 853 942 900 948C947 953 1033 962 1060 965" fill="none" stroke="#b8a4c0" stroke-width="24" stroke-linecap="round" stroke-opacity="0.9"/><path d="M430 948C445 949 505 954 520 955" fill="none" stroke="#9a88a8" stroke-width="7" stroke-linecap="round" stroke-opacity="0.9"/><path d="M60 1063C83 1053 160 1014 200 1003C240 991 283 996 300 995" fill="none" stroke="#c9bccc" stroke-width="12" stroke-linecap="round" stroke-opacity="0.8"/><path d="M940 1523C893 1504 957 1441 980 1413C1003 1384 1047 1369 1080 1353C1113 1336 1150 1316 1180 1313C1210 1309 1247 1298 1260 1333C1273 1368 1313 1491 1260 1523C1207 1554 987 1541 940 1523Z" fill="#e2eedd"/><path d="M515 1523C493 1508 516 1449 530 1433C544 1416 580 1418 600 1423C620 1428 640 1446 650 1463C660 1479 682 1513 660 1523C638 1533 537 1538 515 1523Z" fill="#e8f4e4"/><path d="M244 1155L238 1150L231 1148L218 1153L210 1164L213 1177L224 1184L232 1185L240 1182L248 1169L247 1162ZM452 1208L440 1220L439 1228L442 1236L447 1240L455 1243L468 1243L475 1241L481 1235L483 1222L475 1211L460 1206ZM376 1078L367 1085L364 1096L368 1105L381 1113L395 1115L404 1112L418 1094L418 1081L408 1072L400 1072ZM775 1076L767 1077L760 1083L757 1092L759 1102L789 1123L797 1124L805 1122L811 1115L816 1098L813 1085L804 1079ZM42 1389L32 1388L23 1393L5 1427L5 1468L11 1476L22 1482L35 1480L68 1459L74 1449L73 1441L62 1402L56 1396ZM694 1202L701 1204L710 1201L716 1195L718 1188L698 1124L693 1119L685 1117L641 1123L633 1126L629 1132L619 1155L619 1164L622 1170L628 1175ZM744 1182L738 1193L741 1205L768 1227L780 1229L815 1220L823 1215L826 1207L833 1164L829 1156L814 1143L801 1140L794 1144ZM855 1363L851 1370L851 1377L855 1385L862 1389L870 1390L885 1385L893 1376L893 1363L883 1354L865 1354ZM1195 1182L1192 1190L1194 1198L1199 1205L1207 1209L1218 1210L1238 1201L1243 1196L1245 1189L1245 1159L1243 1151L1232 1144L1219 1147ZM674 1273L668 1278L665 1284L665 1293L668 1299L690 1314L698 1315L706 1311L712 1299L708 1287L689 1272L682 1271ZM324 1241L322 1250L325 1258L331 1263L339 1265L376 1255L383 1248L384 1240L382 1232L377 1226L347 1215L339 1216L334 1220ZM1179 1051L1171 1054L1165 1060L1163 1068L1164 1076L1172 1084L1198 1093L1212 1092L1232 1079L1237 1071L1236 1059L1227 1050ZM857 1342L865 1347L878 1348L887 1344L892 1338L906 1273L903 1264L896 1257L858 1255L851 1258L846 1265L831 1298L831 1307L835 1314ZM845 1242L852 1248L858 1250L901 1251L912 1245L917 1236L925 1174L923 1168L919 1161L912 1156L904 1154L851 1161L842 1166L838 1174L830 1216L832 1224ZM1018 1139L1008 1146L1001 1159L1000 1167L1015 1194L1024 1200L1058 1202L1066 1201L1073 1195L1093 1165L1093 1157L1090 1150L1068 1129L1059 1128ZM172 1259L163 1264L157 1274L162 1341L166 1349L173 1353L200 1353L243 1315L250 1289L250 1279L232 1257L225 1253ZM979 1274L991 1274L1001 1266L1014 1211L1013 1201L996 1174L989 1169L939 1169L932 1174L929 1181L921 1237L923 1245L930 1254ZM456 1062L444 1069L416 1107L413 1115L418 1127L444 1154L454 1158L464 1156L512 1118L517 1111L519 1105L519 1091L516 1083L494 1063L485 1060ZM639 1065L626 1069L622 1076L620 1082L628 1107L637 1117L646 1117L694 1111L701 1107L712 1092L712 1079L702 1070ZM1156 1100L1139 1153L1141 1161L1163 1186L1172 1190L1183 1188L1189 1182L1215 1139L1215 1130L1206 1106L1199 1099L1176 1091L1163 1092ZM344 1096L332 1093L314 1101L279 1151L277 1159L278 1167L283 1174L322 1201L330 1204L340 1202L347 1195L374 1126L373 1120L369 1112ZM747 1335L747 1345L753 1353L803 1381L819 1386L827 1385L834 1381L850 1360L853 1354L853 1347L849 1340L828 1314L819 1309L764 1310L752 1319ZM451 1174L447 1165L408 1124L400 1120L389 1120L383 1124L378 1130L353 1194L353 1204L356 1209L363 1214L404 1231L414 1231L451 1201L454 1193ZM153 1421L155 1414L158 1373L154 1364L145 1359L122 1360L75 1391L69 1401L69 1409L82 1449L88 1455L107 1463L116 1462L132 1455ZM603 1170L610 1163L626 1123L612 1079L587 1066L580 1064L530 1083L524 1095L524 1110L527 1117L580 1172L591 1175ZM188 1183L175 1186L156 1204L151 1211L150 1217L154 1243L158 1249L165 1253L173 1254L215 1247L222 1244L227 1237L232 1206L228 1195L219 1188ZM840 1081L829 1084L823 1092L813 1127L814 1135L818 1140L835 1154L843 1157L896 1150L905 1145L909 1136L911 1105L907 1092L893 1083ZM532 1129L523 1124L512 1125L462 1164L458 1170L457 1177L459 1192L464 1199L505 1221L514 1223L522 1220L569 1190L573 1181L571 1170ZM535 1218L530 1224L527 1233L530 1242L537 1247L587 1258L597 1255L602 1249L603 1235L592 1205L584 1197L576 1195L569 1197ZM83 1289L80 1298L83 1307L121 1349L128 1353L139 1353L151 1347L156 1335L152 1278L147 1268L136 1263L104 1265L97 1270ZM924 1159L934 1163L983 1163L989 1161L996 1156L1005 1142L1006 1133L997 1087L992 1078L980 1075L941 1079L920 1094L917 1102L914 1143L917 1151ZM602 1177L594 1186L594 1196L622 1269L636 1278L645 1280L680 1264L685 1257L695 1223L694 1215L690 1208L616 1175L608 1174ZM1079 1195L1076 1204L1079 1214L1100 1240L1110 1246L1143 1236L1162 1211L1164 1204L1164 1197L1160 1190L1136 1164L1126 1159L1110 1160L1101 1163ZM1152 1074L1145 1067L1137 1066L1095 1072L1084 1079L1073 1113L1073 1121L1076 1129L1100 1152L1108 1155L1122 1154L1130 1151L1134 1146L1155 1088L1155 1082ZM718 1166L726 1176L732 1178L740 1177L779 1148L784 1140L784 1131L779 1123L732 1092L723 1092L717 1095L704 1114L705 1122ZM909 1357L917 1359L927 1356L985 1308L990 1296L985 1284L933 1261L923 1261L916 1265L911 1273L897 1338L900 1349ZM274 1174L266 1171L257 1173L241 1189L232 1240L232 1246L236 1253L251 1270L259 1275L305 1265L310 1258L327 1221L326 1213L321 1206ZM1005 1272L1005 1282L1010 1289L1017 1292L1025 1293L1070 1277L1090 1266L1096 1259L1097 1248L1067 1210L1060 1207L1029 1207L1022 1211L1018 1218ZM812 1304L820 1302L826 1297L843 1256L841 1246L831 1231L819 1225L786 1233L778 1238L774 1245L769 1285L771 1297L779 1303ZM735 1302L743 1305L749 1305L756 1302L761 1297L769 1240L764 1230L732 1206L719 1203L708 1208L703 1214L691 1260L696 1270ZM1077 1085L1077 1076L1075 1070L1069 1065L1063 1063L1025 1068L1012 1074L1005 1081L1003 1088L1010 1122L1017 1129L1025 1131L1061 1122L1068 1114ZM88 1321L81 1316L75 1315L67 1318L62 1322L37 1365L38 1377L44 1384L57 1390L67 1389L108 1362L111 1353L109 1345ZM63 1544L75 1538L89 1523L107 1496L105 1472L100 1466L87 1460L79 1459L72 1462L36 1485L31 1493L32 1528L35 1536L44 1543Z" fill="#eef9ea" stroke="#5e4468" stroke-width="3.5" stroke-linejoin="round"/></g><g filter="url(#soft2)"><path d="M520 208l-1 3M453 334l-1 4M31 355l1 2M848 266l0 3M241 312l-1 2M221 304l1 2M1206 449l0 2M529 215l1 3M1133 464l1 3M677 298l-2 3M949 249l1 3M911 292l0 3M369 165l-1 2M770 307l1 3M930 403l-0 4M978 325l2 3M386 181l0 2M430 356l-1 4M322 301l0 2M1016 385l1 3M178 242l-1 2M23 458l-1 2M495 351l1 3M767 266l1 2M623 230l1 3M1028 435l0 2M587 338l1 2M251 416l-1 3M967 410l-1 3M218 205l1 3M692 342l1 4M55 435l0 2M1018 339l-1 2M415 247l1 3M97 280l2 3M134 212l-2 3M378 377l-2 3M378 332l0 2M447 214l1 4M6 412l1 2M216 291l1 3M1207 447l1 2M306 311l-1 2M981 392l-1 3M174 409l2 3M252 233l-1 3M387 384l-0 3M141 279l-0 3M680 260l-2 3M1168 465l1 3M192 348l-2 4M56 277l-1 4M803 226l-1 2M375 252l-1 2M1038 279l0 3M422 357l1 3M660 209l-0 3M784 322l-1 2M831 341l1 3M39 351l-1 2M548 391l1 2M736 276l-0 4M444 328l1 3M471 398l1 4M1172 332l1 2M802 309l1 2M51 397l2 3M452 319l-1 3M128 248l-1 3M133 454l-1 2M883 336l-1 3M359 360l-1 3M473 196l2 3M513 371l-1 2M1090 398l1 4M713 273l-1 3M88 375l-1 2M87 330l-0 2M879 343l-1 3M264 194l-0 3M1104 309l-1 3M584 356l1 3M607 252l1 3M1217 308l-0 3M64 264l-0 3M949 238l2 3M731 179l-2 4M459 350l-0 3M876 296l-0 4M994 276l-0 3M724 339l1 3M0 490l1 2M1030 342l0 4M873 351l1 3M942 345l1 2M1189 300l-0 4M535 308l-2 3M524 331l2 3M493 322l-1 3M58 457l-1 3M613 262l-1 2M207 412l1 2M110 246l1 2M1176 316l1 4M319 273l0 4M338 433l0 4M342 413l-1 2M1148 416l-0 2M466 231l1 2M159 253l1 3M756 296l-1 3M616 262l1 3M498 377l0 2M596 195l1 3M392 375l1 3M234 335l1 2M840 344l0 3M554 248l-1 3M868 196l-1 2M916 210l0 2M531 244l-0 3M553 333l-0 3M611 270l1 3M886 288l-0 2M96 320l1 4M497 237l-0 2M1182 346l-0 2M741 215l1 3M544 292l-1 3M394 345l-1 3M920 252l-1 2M138 328l-1 3M4 252l-0 3M559 251l1 4M608 238l-1 3M1226 363l2 3M596 218l1 2M1102 329l-0 3M922 348l-1 2M1025 438l-1 2M728 281l-1 3M1065 302l-1 3M799 199l1 2M109 245l0 2M795 256l1 3M146 266l-1 3M171 370l0 2M9 466l-1 2M480 292l-1 3M683 273l-1 3M158 296l1 2M432 234l-0 3M963 411l-1 2M3 228l1 3M151 438l-1 3M1082 451l1 2M392 206l-1 3M351 281l-1 2M114 458l-1 3M14 372l-0 4M513 278l-0 2M989 269l-1 2M709 215l0 2M151 397l-1 2M92 330l0 3M885 200l1 2M576 267l1 2M33 382l1 3M917 347l2 4M928 264l0 2M570 326l-1 2M333 349l0 2M942 258l0 2M98 347l1 2M450 217l0 3M261 361l-2 3M208 194l1 3M102 414l1 3M1145 435l-0 2M1152 470l-1 3M58 425l1 3M221 243l2 3M632 222l1 3M1147 285l-1 2M131 433l1 3M863 295l-1 3M930 394l-0 2M675 293l0 3M991 252l1 2M168 220l-1 3M323 401l-0 4M960 330l1 3M417 217l2 3M765 251l0 2M36 240l-2 3M703 176l0 3M154 399l-1 4M1248 416l-1 2M1117 400l-0 4M958 361l1 2M741 201l1 3M180 308l-1 3M51 377l-0 2M959 365l0 3M81 422l0 2M545 226l0 2M923 277l-1 3M531 365l0 4M656 197l1 2M54 420l-1 2M159 389l-2 3M972 404l0 3M728 199l1 2M600 256l-1 2M781 216l0 2M908 310l1 3M109 460l1 3M452 165l2 3M302 415l1 3M22 370l-1 3M530 369l0 4M1119 411l1 4M510 272l1 3M800 226l1 3M299 440l-1 2M769 211l1 3M12 280l1 3M1080 310l-0 3M847 197l0 2M1148 309l-0 2M28 467l-0 3M1174 418l-1 2M904 271l0 3M15 384l1 2M539 235l-1 3M1103 382l-1 2M495 220l-1 3M249 370l-1 4M543 187l-2 3M862 262l-0 2M233 328l0 3M867 292l1 3M707 247l0 2M529 320l0 2M175 316l-0 2M620 259l-1 3M506 199l-0 2M1074 321l0 3M958 269l0 2M1041 403l-1 3M80 365l1 4M340 219l-0 2M595 266l-0 2M1142 351l1 3M1027 348l-1 3M406 351l1 4M171 207l-1 3M965 377l-1 2M159 359l-1 2M1214 454l1 3M859 317l-0 3M247 196l-1 2M1137 353l0 3M1032 424l1 2M284 440l-0 2M66 333l0 4M264 375l-1 4M857 295l2 3M1213 315l-1 3M839 212l-0 3M555 284l-0 2M1155 458l-1 3M1006 324l1 2M1202 394l-0 4M532 264l1 3M779 338l0 4M98 250l1 2M457 307l-1 3M239 278l0 2M320 218l-1 3M518 403l-2 3M1055 325l-0 2M189 219l0 2M487 302l1 4M497 194l-0 3M458 300l0 2M144 225l1 3M644 198l0 2M480 204l1 3M1044 406l-1 3M31 322l1 2M463 167l-1 3M204 343l-1 3M1185 404l-0 2M947 261l1 4M991 323l1 3M58 388l-1 3M836 201l1 3M153 372l1 3M985 319l-0 4" stroke="#4a3470" stroke-opacity="0.45" stroke-width="10" stroke-linecap="round" fill="none"/><path d="M381 829l7 -4M937 455l7 8M453 478l6 2M463 432l7 4M522 469l7 1M175 577l7 6M956 613l11 2M1203 889l9 4M20 735l6 -4M537 830l10 -3M959 511l8 1M1060 546l10 -0M388 882l6 -1M251 643l12 -3M217 789l7 -5M1050 732l10 -1M1234 871l6 -4M965 696l4 5M145 990l6 -3M756 356l7 4M1181 673l4 4M337 791l6 2M538 780l6 -6M585 490l11 2M144 723l9 3M553 751l8 3M1171 587l7 2M157 595l7 2M45 563l7 3M433 894l4 -4M31 789l9 -1M857 864l7 3M36 823l4 -4M267 772l9 2M860 423l6 4M469 870l5 3M846 680l10 4M735 845l10 5M399 608l8 5M1110 785l9 -1M29 1090l8 0M478 684l8 1M1249 733l11 -0M917 858l5 5M314 693l8 -6M391 510l4 -3M277 528l7 -7M1107 874l6 2M1133 848l6 -3M167 634l4 -4M628 520l10 -6M327 665l10 1M626 844l10 6M631 426l7 5M1127 889l5 -5M526 589l11 -2M428 554l7 4M107 794l9 3M45 872l5 4M615 534l9 5M131 661l9 -1M899 548l9 2M679 457l10 -2M994 526l6 5M138 621l9 3M843 694l9 7M584 865l9 -5M299 793l6 -6M269 596l10 -3M140 735l9 7M370 610l7 -8M106 757l9 -6M119 532l7 -3M544 858l10 -3M803 377l10 -0M488 777l8 -6M667 619l4 -5M775 797l11 -3M68 767l9 -2M793 736l8 -7M730 622l12 0M315 684l10 4M26 510l6 -2M90 993l9 4M590 478l5 -4M1067 541l6 -3M281 728l6 -1M1013 521l10 -6M71 785l4 5M1084 875l6 3M432 452l9 3M165 518l10 5M591 760l6 6M512 686l9 7M659 601l11 0M174 926l7 -0M540 789l5 -3M1020 817l8 1M689 864l6 -0M1182 844l5 -4M1022 630l5 3M109 932l8 -1M1233 597l11 -2M817 731l6 -5M373 899l5 -4M405 563l9 -6M530 781l9 6M681 760l10 -4M73 824l11 2M1221 571l9 -0M940 739l10 4M905 655l7 7M508 581l9 -5M192 616l7 0M507 723l9 -4M404 875l11 1M414 841l10 -0M146 707l8 5M353 684l8 -0M62 902l11 -2M1056 642l6 -2M233 634l6 7M70 588l7 6M274 901l6 -3M194 713l12 0M1099 626l7 6M86 570l6 -1M25 1104l11 -1M928 640l7 1M545 751l6 -2M1049 579l7 3M1085 848l9 -4M664 649l7 6M49 647l10 -3M1206 716l5 6M920 443l7 3M317 559l8 -5M330 624l8 8M644 816l5 5M337 576l8 -3M91 991l10 6M1131 611l7 0M765 359l6 3M453 597l8 9M1039 720l11 -3M1039 762l9 5M237 468l10 -2M37 869l8 -6M950 878l6 1M69 786l9 -4M399 683l6 4M328 617l12 0M1031 757l7 7M431 656l6 -2M730 384l7 -1M976 792l8 -7M1218 810l5 -0M618 819l5 -4M884 538l4 -4M1140 642l10 2M394 565l9 2M584 451l8 3M428 675l6 -0M646 866l6 7M622 421l8 -5M604 553l5 4M942 651l8 -2M474 590l12 3M566 528l11 2M647 436l4 5M403 794l8 -1M309 618l5 4M670 819l6 -7M1102 680l9 7M1019 833l5 -1M1185 718l9 0M1216 803l9 3M512 589l6 -4M593 636l8 -1M923 540l9 -7M973 563l9 4M230 830l8 6M1173 595l9 -2M525 558l6 4M666 492l8 1M1160 653l7 -1M1057 732l8 9M1187 756l6 1M9 557l6 -0M468 498l9 1M898 760l7 5M1171 624l7 0M290 781l7 0M778 667l5 3M1191 687l7 -7M996 715l8 -4M866 822l9 1M680 374l5 -4M181 475l11 1M489 639l7 -3M879 541l6 -2M1078 808l9 6M171 603l8 1M1066 765l7 6M377 900l8 -1M1214 883l9 2M1196 507l7 -4M73 824l8 7M1242 592l5 -4M714 599l7 -5M590 800l6 4M695 419l6 7M1194 784l8 2M253 753l6 -3M103 886l7 4M32 824l6 3M46 928l5 -2M1105 765l10 2M508 856l7 6M1236 597l6 -2M223 588l9 -6M381 588l6 3M336 906l9 3M434 603l5 1M48 714l6 5M842 670l10 -1M1166 665l12 -2M371 494l11 1M245 759l5 0M657 683l5 6M834 803l9 2M1003 799l10 0M1075 477l8 1M916 464l10 -2M1163 698l7 6M355 558l7 2M433 872l10 -6M376 599l6 1M618 576l9 1M247 888l8 -0M962 712l4 5M1126 817l9 -2M1045 709l9 -4M267 761l12 3M742 727l8 -7M986 646l10 -3M391 814l5 5M250 802l8 -0M55 679l8 -5M580 874l6 3M23 782l9 -1M985 605l11 -3M544 747l6 4M155 620l9 1M98 539l6 3M647 613l11 -0M1154 636l8 6M1142 764l8 -2M1008 827l6 5M629 677l9 -5M499 798l5 -4M210 513l5 5M14 751l8 -8M877 831l7 -5M1021 598l10 7M982 678l7 -6M741 772l9 1M321 846l9 -2M355 886l9 3M43 900l5 -0M932 481l4 -4M223 879l6 -6M1106 766l7 -4M957 877l5 -3M515 589l9 1M388 748l11 -1M259 878l5 -5M1106 643l6 4M2 1047l6 -3M53 502l9 1M356 752l7 -6M1003 625l10 -1M636 774l6 -3M687 748l7 0M440 521l7 3M194 661l5 3M48 850l5 -4M293 768l7 -4M292 639l4 4M161 726l11 -5M616 635l7 -7M385 721l7 -0M890 729l5 -4M288 909l10 -1M119 520l8 1M131 629l4 -4M165 858l6 5M721 694l8 7M956 587l10 -3M155 511l7 -6M535 438l7 -5M959 511l7 3M943 539l10 -6M1096 488l9 5M882 417l8 -3M354 647l11 4M1069 757l9 -4M80 950l10 3M1176 614l9 1M365 738l10 -3M141 896l10 6M1109 607l9 -4M239 946l11 -2M1134 878l8 -6M694 739l10 -4M1026 707l12 0M335 775l7 -4M781 807l10 -2M935 649l7 8M122 621l8 9M1081 657l8 3M1123 560l7 -5M373 566l10 6M1018 506l7 -1M243 876l5 -5M223 521l10 2M4 1098l10 1M1160 517l8 -2M227 569l9 -1M187 778l8 -2M665 517l9 5M691 859l11 4M1064 683l4 4M514 556l6 7M831 792l5 -2M697 416l5 4M1226 892l6 -1M415 552l6 3M544 708l5 1M574 607l9 -6M66 753l5 -5M530 474l7 -4M1165 781l9 -3M26 702l7 -6M611 837l11 -4M865 762l7 -1M1154 603l7 2M185 981l12 -2M717 864l5 -4M1103 523l8 3M693 567l5 3M1136 597l7 4M681 522l8 -6M1159 680l9 5M189 845l6 -6M965 756l6 -5M1061 744l8 5M646 771l5 3M1150 591l7 7M649 680l7 -2M702 453l6 5M66 816l5 3M174 617l11 2M322 843l7 3M112 1002l9 0M943 708l7 8M2 710l8 3M839 713l8 4M3 666l9 8M1003 512l6 -3M538 483l5 -3M908 453l8 3M558 563l8 -5M64 765l7 -7M1036 856l10 -0M2 626l11 3M1002 601l6 -1M374 570l5 -4M1002 641l6 -5M1097 516l9 2M243 603l5 -3M894 786l7 3M952 491l9 -8M208 724l7 -7M1100 573l7 -6M1038 746l4 4M1209 584l8 6M879 638l7 -6M37 718l10 4M139 929l11 1M200 781l5 2M1001 740l6 -6M698 835l8 3M709 704l7 2M51 943l11 -5M441 879l9 -6M596 876l5 -6M947 695l5 3M981 488l6 2M418 722l10 2M51 944l9 5M872 712l6 -3M214 605l9 4M878 575l6 -4M434 557l5 3M1064 564l8 3M1248 721l6 6M183 480l9 3M389 606l9 -5M25 1041l5 -2M51 692l5 -6M651 552l8 3M2 898l6 -4M929 550l7 -0M814 705l7 -4M887 872l5 -4M1108 773l8 -6M5 720l7 -8M292 539l5 -4M681 611l7 -6M576 545l12 3M1163 581l8 9M747 372l10 -3M330 587l9 8M596 475l8 -3M1091 832l8 -0M608 549l7 -8M28 645l6 2M102 770l8 -3M176 523l5 -4M226 912l5 -4M421 570l6 4M511 709l7 -4M1222 596l7 -1M818 719l7 5M595 852l7 -1M564 751l8 4M597 846l11 -3M1012 492l12 -0M1065 606l5 -2M1057 718l6 7M657 448l10 3M14 641l6 3M658 640l8 8M13 744l6 -7M191 653l12 2M570 835l7 -0M1079 773l6 -0M1103 862l9 -6M393 543l5 5M375 588l10 -0M1012 500l11 -3M1077 750l8 -3M973 630l10 -3M638 479l9 -0M597 617l6 2M765 403l9 -6M1086 848l4 -4M1245 741l7 0M1172 583l8 6M923 506l7 2M864 874l11 5M181 620l8 2M710 398l5 3M140 484l6 -3M1095 881l10 5M89 999l8 4M429 480l8 5M615 672l6 1M626 762l9 8M918 797l7 1M508 469l10 -2M977 496l10 -2M215 617l8 1M422 646l11 2M435 888l10 3M63 580l7 -8M962 765l8 -0M897 827l8 8M935 625l11 2M823 395l9 -2M290 649l6 -6M669 599l6 -2M219 909l8 -1M571 465l8 8M589 434l5 5M1132 558l10 3M398 753l8 -7M387 816l6 5M386 823l10 -4M1141 512l10 -3M410 496l10 2M1184 503l6 -6M1147 777l7 -7M310 602l8 3M408 788l9 8M1001 860l10 -3M960 655l11 3M828 389l9 -6M1112 535l5 -5M781 747l7 -0M681 830l10 -3M265 492l8 -8M633 692l9 -3M133 509l9 -6M335 692l7 -2M980 569l8 1M1002 702l5 -2M960 468l7 4M124 906l10 -5M1183 548l8 -4M117 497l9 6M197 917l8 -5M201 712l5 2M66 495l7 -4M1062 645l9 -1M1112 496l4 -4M304 646l6 1M597 821l9 2M34 659l8 -1M301 592l7 -8M20 905l11 1M443 613l5 4M819 657l8 7M177 594l8 6M311 472l6 -5M109 534l7 -5M768 377l11 -2M148 560l8 -2M1201 828l9 -0M701 459l7 3M1210 703l8 -2M760 843l8 8M694 648l5 3M1040 647l7 1M116 962l10 -1M177 602l7 -5M471 512l11 2M155 511l5 2M24 726l7 -2M460 473l6 -4M101 922l8 4M590 428l9 6M875 484l6 3M981 838l11 -1M718 857l10 4M1163 716l6 -2M558 826l7 6M333 772l6 -1M766 677l5 -6M620 696l5 -3M947 700l6 -3M1193 790l5 -5M29 696l11 0M441 860l8 4M23 1022l9 7M402 527l5 -3M149 905l10 6M115 689l8 -2M1211 539l7 7M672 459l10 5M569 580l7 -6M799 660l8 2M1005 863l8 8M42 760l7 -2M1119 550l8 3M1062 814l6 6M893 517l7 1M80 605l5 4M3 1064l8 -0M388 563l6 -7M903 544l10 0M477 886l10 7M152 872l9 7M170 963l8 -8M26 1017l9 1M520 453l10 -1M92 899l7 -6M419 496l7 3M172 765l9 -5M147 926l9 7M372 853l10 -2M272 848l9 3M12 879l9 -1M431 571l9 -5M593 617l7 5M47 598l8 3M1194 580l7 4M987 869l10 -2M454 869l8 -5M197 815l10 0M10 649l8 -5M654 826l9 -0M650 691l6 6M1010 620l10 -6M1174 799l10 3M372 459l11 4M397 568l4 5M1127 860l7 -1M1085 622l6 -0M699 373l5 -0M958 555l8 -4M765 730l7 -6M147 741l11 -1M582 624l8 1M969 658l6 -7M997 715l8 -1M573 701l6 -1M1141 895l6 -5M140 601l10 5M64 584l11 4M81 904l7 0M1030 591l6 2M911 575l9 7M216 870l5 5M545 531l10 5M81 604l9 -4M742 858l7 6M217 949l5 3M401 852l9 -2" stroke="#33264e" stroke-opacity="0.75" stroke-width="9" stroke-linecap="round" fill="none"/><path d="M444 1336l1 1M304 1421l1 1M559 1343l1 -1M639 1326l1 -0M669 1411l1 -0M343 1309l1 0M216 1392l2 1M428 1322l1 -0M353 1352l2 0M379 1423l1 -1M359 1370l1 0M792 1446l2 -0M455 1334l2 -1M879 1425l1 -1M468 1315l1 -0M651 1420l1 1M640 1337l2 0M302 1318l1 1M272 1460l2 -1M797 1426l2 -1M582 1350l2 0M736 1401l2 -0M408 1351l1 1M431 1319l1 0M726 1425l1 0M676 1463l1 -1M762 1472l2 -1M764 1471l2 0M632 1392l1 0M480 1418l1 0M473 1398l1 -0M808 1423l1 -1M428 1368l1 -0M580 1289l2 0M775 1383l1 0M231 1474l1 -1M570 1474l1 -1M496 1379l1 0M608 1375l1 -0M390 1372l2 0M771 1443l2 -0M181 1456l1 0M599 1427l2 0M354 1321l1 -0M590 1458l2 -1M432 1422l2 1M342 1340l1 -0M649 1443l2 -1M763 1469l1 1M519 1355l1 0M890 1442l2 1M470 1323l1 0M341 1369l1 0M367 1462l1 0M662 1467l2 -1M235 1478l2 -1M529 1478l2 0M411 1447l2 1M593 1357l2 0M548 1410l1 -1M277 1328l2 -0M534 1363l2 -1M189 1418l2 -0M637 1449l1 1M359 1386l1 1M364 1332l1 -1M792 1407l1 1M293 1319l1 0M423 1449l1 -1M324 1314l1 -0M509 1382l1 1M284 1330l1 1M252 1353l1 0M547 1339l2 -0M602 1402l1 0M801 1477l1 -0M788 1414l1 1M754 1395l1 -0M740 1393l1 1M744 1466l1 -1" stroke="#5a4a84" stroke-opacity="0.6" stroke-width="9" stroke-linecap="round" fill="none"/></g><g filter="url(#soft2)"><ellipse cx="735" cy="495" rx="32" ry="42" fill="#d8e2da"/><ellipse cx="745" cy="570" rx="30" ry="34" fill="#d8e2da"/><ellipse cx="815" cy="470" rx="24" ry="42" fill="#e6eee2"/><ellipse cx="835" cy="545" rx="22" ry="32" fill="#d8e2da"/></g><rect x="790" y="1317" width="361" height="11" fill="#0c0c0c"/></g></g>
</g>
<g id="panelA">
<rect x="212" y="26" width="7" height="424" fill="#121312"/>
<rect x="206" y="443" width="526.5" height="7" fill="#121312"/>
<text x="202.3" y="459.9" text-anchor="end" class="b" font-size="44">0</text>
<rect x="206" y="391.0" width="7" height="7" fill="#121312"/>
<text x="202.3" y="407.7" text-anchor="end" class="b" font-size="44">50</text>
<rect x="206" y="338.9" width="7" height="7" fill="#121312"/>
<text x="202.3" y="355.6" text-anchor="end" class="b" font-size="44">100</text>
<rect x="206" y="286.7" width="7" height="7" fill="#121312"/>
<text x="202.3" y="303.4" text-anchor="end" class="b" font-size="44">150</text>
<rect x="206" y="234.6" width="7" height="7" fill="#121312"/>
<text x="202.3" y="251.3" text-anchor="end" class="b" font-size="44">200</text>
<rect x="206" y="182.4" width="7" height="7" fill="#121312"/>
<text x="202.3" y="199.1" text-anchor="end" class="b" font-size="44">250</text>
<rect x="206" y="130.2" width="7" height="7" fill="#121312"/>
<text x="202.3" y="146.9" text-anchor="end" class="b" font-size="44">300</text>
<rect x="206" y="78.1" width="7" height="7" fill="#121312"/>
<text x="202.3" y="94.8" text-anchor="end" class="b" font-size="44">350</text>
<rect x="206" y="25.9" width="7" height="7" fill="#121312"/>
<text x="202.3" y="42.6" text-anchor="end" class="b" font-size="44">400</text>
<rect x="240.5" y="449" width="7" height="7" fill="#121312"/>
<text x="244.5" y="499" text-anchor="middle" class="b" font-size="44.5">1</text>
<rect x="297.5" y="449" width="7" height="7" fill="#121312"/>
<text x="301.5" y="499" text-anchor="middle" class="b" font-size="44.5">3</text>
<rect x="354.5" y="449" width="7" height="7" fill="#121312"/>
<text x="358.5" y="499" text-anchor="middle" class="b" font-size="44.5">5</text>
<rect x="411.5" y="449" width="7" height="7" fill="#121312"/>
<text x="415.5" y="499" text-anchor="middle" class="b" font-size="44.5">7</text>
<rect x="468.5" y="449" width="7" height="7" fill="#121312"/>
<text x="472.5" y="499" text-anchor="middle" class="b" font-size="44.5">9</text>
<rect x="525.5" y="449" width="7" height="7" fill="#121312"/>
<text x="529.5" y="499" text-anchor="middle" class="b" font-size="44.5">11</text>
<rect x="582.5" y="449" width="7" height="7" fill="#121312"/>
<text x="586.5" y="499" text-anchor="middle" class="b" font-size="44.5">13</text>
<rect x="639.5" y="449" width="7" height="7" fill="#121312"/>
<text x="643.5" y="499" text-anchor="middle" class="b" font-size="44.5">15</text>
<rect x="696.5" y="449" width="7" height="7" fill="#121312"/>
<text x="700.5" y="499" text-anchor="middle" class="b" font-size="44.5">16</text>
<text x="472.3" y="544.4" text-anchor="middle" class="b" font-size="48">days</text>
<text transform="translate(112,455) rotate(-90)" class="b" font-size="48">ear thickness<tspan dx="14.5">(%</tspan><tspan font-weight="normal" font-size="46" dx="15.5">Δ</tspan><tspan dx="15.5">)</tspan></text>
<polyline points="244,342.4 301,334.0 358,328.8 415,338.2 472,339.3 529,333.0 586,333.0 643,333.0 700,339.3" fill="none" stroke="#df3020" stroke-width="5" stroke-linejoin="round"/>
<polygon points="235,334.38 253,334.38 244,351.38" fill="#df3020"/>
<polygon points="292,326.0344 310,326.0344 301,343.0344" fill="#df3020"/>
<polygon points="349,320.8184 367,320.8184 358,337.8184" fill="#df3020"/>
<polygon points="406,330.2072 424,330.2072 415,347.2072" fill="#df3020"/>
<polygon points="463,331.2504 481,331.2504 472,348.2504" fill="#df3020"/>
<polygon points="520,324.9912 538,324.9912 529,341.9912" fill="#df3020"/>
<polygon points="577,324.9912 595,324.9912 586,341.9912" fill="#df3020"/>
<polygon points="634,324.9912 652,324.9912 643,341.9912" fill="#df3020"/>
<polygon points="691,331.2504 709,331.2504 700,348.2504" fill="#df3020"/>
<polyline points="244,342.4 301,330.9 358,326.2 415,339.8 472,341.3 529,341.3 586,340.8 643,341.3 700,340.3" fill="none" stroke="#121312" stroke-width="6.5" stroke-linejoin="round"/>
<rect x="235.5" y="333.9" width="17" height="17" fill="#121312"/>
<rect x="292.5" y="322.4" width="17" height="17" fill="#121312"/>
<rect x="349.5" y="317.7" width="17" height="17" fill="#121312"/>
<rect x="406.5" y="331.3" width="17" height="17" fill="#121312"/>
<rect x="463.5" y="332.8" width="17" height="17" fill="#121312"/>
<rect x="520.5" y="332.8" width="17" height="17" fill="#121312"/>
<rect x="577.5" y="332.3" width="17" height="17" fill="#121312"/>
<rect x="634.5" y="332.8" width="17" height="17" fill="#121312"/>
<rect x="691.5" y="331.8" width="17" height="17" fill="#121312"/>
<rect x="298.5" y="315.3" width="5" height="9.4" fill="#9a241c"/>
<rect x="355.5" y="288.1" width="5" height="8.3" fill="#9a241c"/>
<rect x="469.5" y="275.1" width="5" height="10.4" fill="#9a241c"/>
<rect x="526.5" y="244.3" width="5" height="28.2" fill="#9a241c"/>
<rect x="583.5" y="230.8" width="5" height="46.9" fill="#9a241c"/>
<rect x="640.5" y="182.8" width="5" height="64.7" fill="#9a241c"/>
<rect x="697.5" y="130.6" width="5" height="10.4" fill="#9a241c"/>
<polyline points="244,342.4 301,324.6 358,296.5 415,298.0 472,285.5 529,260.0 586,254.8 643,215.1 700,141.0" fill="none" stroke="#9a241c" stroke-width="7" stroke-linejoin="round"/>
<polygon points="235,350.38 253,350.38 244,333.38" fill="#9a241c"/>
<polygon points="292,332.6456 310,332.6456 301,315.6456" fill="#9a241c"/>
<polygon points="349,304.4792 367,304.4792 358,287.4792" fill="#9a241c"/>
<polygon points="406,306.044 424,306.044 415,289.044" fill="#9a241c"/>
<polygon points="463,293.5256 481,293.5256 472,276.5256" fill="#9a241c"/>
<polygon points="520,267.96720000000005 538,267.96720000000005 529,250.96720000000005" fill="#9a241c"/>
<polygon points="577,262.75120000000004 595,262.75120000000004 586,245.7512" fill="#9a241c"/>
<polygon points="634,223.1096 652,223.1096 643,206.1096" fill="#9a241c"/>
<polygon points="691,149.04240000000004 709,149.04240000000004 700,132.04240000000004" fill="#9a241c"/>
<rect x="355.5" y="274.1" width="5" height="37.6" fill="#646464"/>
<rect x="412.5" y="256.8" width="5" height="37.6" fill="#646464"/>
<rect x="697.5" y="249.5" width="5" height="23.0" fill="#646464"/>
<polyline points="244,342.4 301,324.6 358,292.8 415,275.6 472,300.7 529,279.8 586,284.0 643,267.3 700,261.0" fill="none" stroke="#646464" stroke-width="7" stroke-linejoin="round"/>
<circle cx="244" cy="342.4" r="8.7" fill="#646464"/>
<circle cx="301" cy="324.6" r="8.7" fill="#646464"/>
<circle cx="358" cy="292.8" r="8.7" fill="#646464"/>
<circle cx="415" cy="275.6" r="8.7" fill="#646464"/>
<circle cx="472" cy="300.7" r="8.7" fill="#646464"/>
<circle cx="529" cy="279.8" r="8.7" fill="#646464"/>
<circle cx="586" cy="284.0" r="8.7" fill="#646464"/>
<circle cx="643" cy="267.3" r="8.7" fill="#646464"/>
<circle cx="700" cy="261.0" r="8.7" fill="#646464"/>
<rect x="236.5" y="38.7" width="36.5" height="7" fill="#121312"/><rect x="246.7" y="33.900000000000006" width="16.6" height="16.6" fill="#121312"/>
<rect x="238.2" y="77.9" width="36.5" height="7" fill="#df3020"/><polygon points="247.7,72.9 265.7,72.9 256.7,90.4" fill="#df3020"/>
<rect x="238.5" y="119.9" width="36.5" height="7" fill="#646464"/><circle cx="258.0" cy="123.4" r="8.5" fill="#646464"/>
<rect x="237.1" y="160.3" width="36.5" height="7" fill="#9a241c"/><polygon points="246.6,172.3 264.6,172.3 255.6,154.8" fill="#9a241c"/>
<text x="293.5" y="54.4" class="b" font-size="33" textLength="51" lengthAdjust="spacingAndGlyphs">WT</text>
<text x="295" y="93.6" class="bi" font-size="33" textLength="124" lengthAdjust="spacing">slc15a4</text>
<text x="419.5" y="79.6" class="bi" font-size="24" textLength="71.5" lengthAdjust="spacing">feeble</text>
<text x="294.5" y="135.4" class="b" font-size="33" textLength="157" lengthAdjust="spacingAndGlyphs">WT+ IL-23</text>
<text x="295" y="176.8" class="bi" font-size="33" textLength="124" lengthAdjust="spacing">slc15a4</text>
<text x="419.5" y="162.8" class="bi" font-size="24" textLength="71.5" lengthAdjust="spacing">feeble</text>
<text x="497.5" y="176.8" class="b" font-size="33" textLength="93.5" lengthAdjust="spacingAndGlyphs">+IL-23</text>
<text x="643.5" y="184.3" text-anchor="middle" class="st" font-size="34">*</text>
<text x="704.4" y="134" text-anchor="middle" class="st" font-size="34" letter-spacing="4.5">***</text>
<text x="0.4" y="50.4" class="b" font-size="56" textLength="37" lengthAdjust="spacingAndGlyphs" fill="#000">A</text>
</g>
<g id="panelB">
<rect x="177.7" y="626.2" width="7" height="408" fill="#121312"/>
<rect x="171" y="1027.4" width="780" height="7" fill="#121312"/>
<text x="167" y="1044.0" text-anchor="end" class="b" font-size="44.5">0</text>
<rect x="171" y="927.1" width="7" height="7" fill="#121312"/>
<text x="167" y="943.7" text-anchor="end" class="b" font-size="44.5">10</text>
<rect x="171" y="826.8" width="7" height="7" fill="#121312"/>
<text x="167" y="843.4" text-anchor="end" class="b" font-size="44.5">20</text>
<rect x="171" y="726.5" width="7" height="7" fill="#121312"/>
<text x="167" y="743.1" text-anchor="end" class="b" font-size="44.5">30</text>
<rect x="171" y="626.2" width="7" height="7" fill="#121312"/>
<text x="167" y="642.8" text-anchor="end" class="b" font-size="44.5">40</text>
<rect x="273.5" y="1034" width="6.6" height="6.5" fill="#121312"/>
<rect x="213.3" y="897.0" width="127" height="134.0" fill="#121312" stroke="#121312" stroke-width="6" stroke-linejoin="bevel"/>
<rect x="245.3" y="890.5" width="63" height="5" fill="#121312"/>
<rect x="274.1" y="893.0" width="5.4" height="5.0" fill="#121312"/>
<rect x="465.0" y="1034" width="6.6" height="6.5" fill="#121312"/>
<rect x="404.7" y="718.0" width="127.2" height="311.0" fill="#848484"/>
<rect x="436.8" y="704.9" width="63" height="5" fill="#848484"/>
<rect x="465.6" y="707.4" width="5.4" height="11.5" fill="#848484"/>
<rect x="656.5" y="1034" width="6.6" height="6.5" fill="#121312"/>
<rect x="596.1999999999999" y="857.4" width="127.2" height="171.6" fill="#df3020"/>
<rect x="628.3" y="848.9" width="63" height="5" fill="#df3020"/>
<rect x="657.0999999999999" y="851.4" width="5.4" height="7.0" fill="#df3020"/>
<rect x="848.3000000000001" y="1034" width="6.6" height="6.5" fill="#121312"/>
<rect x="788.0" y="681.4" width="127.2" height="347.6" fill="#9a241c"/>
<rect x="820.1" y="665.3" width="63" height="5" fill="#9a241c"/>
<rect x="848.9" y="667.8" width="5.4" height="14.5" fill="#9a241c"/>
<rect x="269.5" y="673.7" width="205.2" height="2" fill="#121312"/>
<rect x="648.5" y="638" width="205" height="2" fill="#121312"/>
<text x="379.8" y="670.6" text-anchor="middle" class="st" font-size="34" letter-spacing="4.5">****</text>
<text x="758.2" y="631.4" text-anchor="middle" class="st" font-size="34" letter-spacing="4.5">***</text>
<text x="337.5" y="710.7" class="b" font-size="43.5" fill="#000">2.3x</text>
<text x="714.2" y="673" class="b" font-size="43.5" fill="#000">2.0x</text>
<text x="241" y="1084.2" class="b" font-size="43.5" textLength="65" lengthAdjust="spacingAndGlyphs">WT</text>
<text x="429" y="1084.2" class="b" font-size="43.5" textLength="63.5" lengthAdjust="spacingAndGlyphs">WT</text>
<text x="398.5" y="1135.3" class="b" font-size="43.5" textLength="122.5" lengthAdjust="spacingAndGlyphs">+IL-23</text>
<text x="551" y="1088.6" class="bi" font-size="43.5" textLength="151.5" lengthAdjust="spacingAndGlyphs">slc15a4</text>
<text x="705" y="1071" class="bi" font-size="30" textLength="86" lengthAdjust="spacingAndGlyphs">feeble</text>
<text x="805" y="1088.6" class="bi" font-size="43.5" textLength="151" lengthAdjust="spacingAndGlyphs">slc15a4</text>
<text x="958" y="1071" class="bi" font-size="30" textLength="86.5" lengthAdjust="spacingAndGlyphs">feeble</text>
<text x="804.5" y="1137.3" class="b" font-size="43.5" textLength="122.5" lengthAdjust="spacingAndGlyphs">+IL-23</text>
<text transform="translate(107.5,1003) rotate(-90)" class="b" font-size="48">acanthosis (µm)</text>
<text x="1.8" y="635.2" class="b" font-size="56" textLength="32.6" lengthAdjust="spacingAndGlyphs" fill="#000">B</text>
</g>
<g id="panelC-labels">
<text x="0.9" y="1267" class="b" font-size="56" textLength="31.6" lengthAdjust="spacingAndGlyphs" fill="#000">C</text>
<text x="73.5" y="1258.6" class="b" font-size="41.5" textLength="66.5" lengthAdjust="spacingAndGlyphs" fill="#000">WT</text>
<text x="370" y="1265" class="bi" font-size="41.5" textLength="150" lengthAdjust="spacingAndGlyphs" fill="#000">slc15a4</text>
<text x="520" y="1250.7" class="bi" font-size="28" textLength="77.5" lengthAdjust="spacingAndGlyphs" fill="#000">feeble</text>
<text x="663" y="1265" class="b" font-size="41.5" textLength="194" lengthAdjust="spacingAndGlyphs" fill="#000">WT +IL-23</text>
<text x="956" y="1212.5" class="bi" font-size="41.5" textLength="148.5" lengthAdjust="spacingAndGlyphs" fill="#000">slc15a4</text>
<text x="1105" y="1198.4" class="bi" font-size="28" textLength="79.5" lengthAdjust="spacingAndGlyphs" fill="#000">feeble</text>
<text x="956" y="1268.8" class="b" font-size="41.5" textLength="119.5" lengthAdjust="spacingAndGlyphs" fill="#000">+IL-23</text>
</g>
</svg>
</body>
</html>
